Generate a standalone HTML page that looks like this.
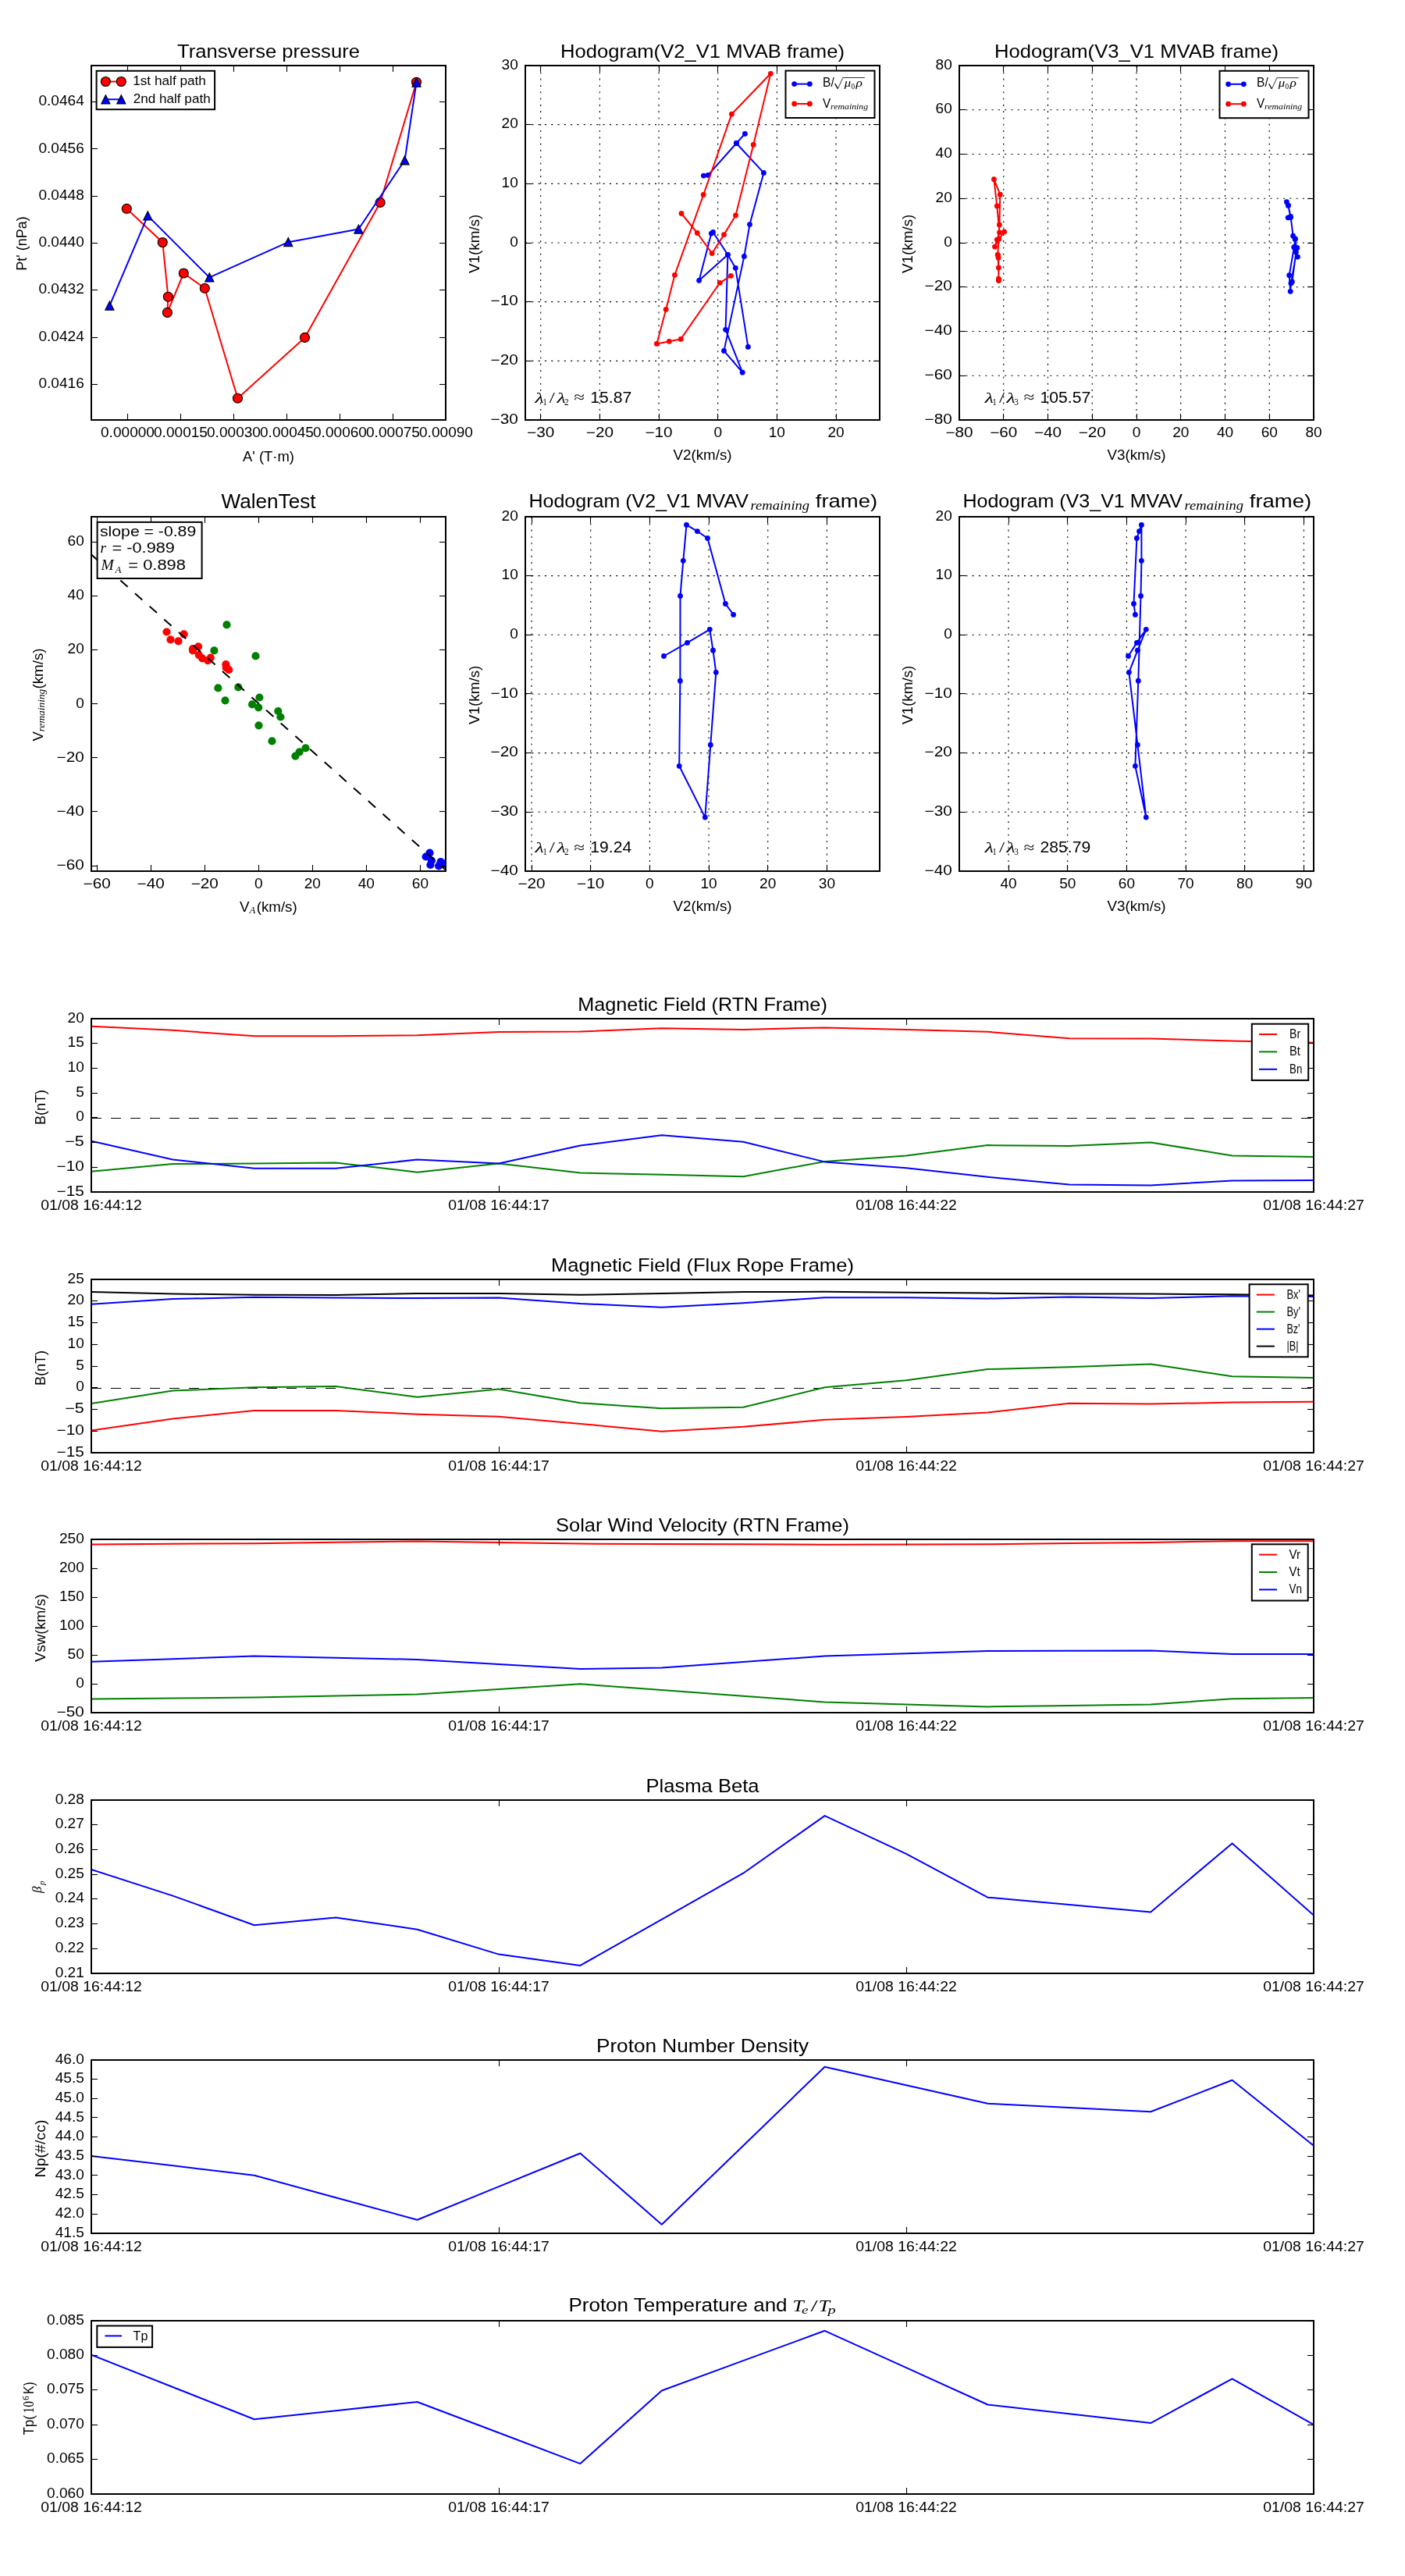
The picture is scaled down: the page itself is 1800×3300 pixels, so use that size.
<!DOCTYPE html>
<html><head><meta charset="utf-8"><style>html,body{margin:0;padding:0;background:#fff;}svg{display:block;will-change:transform;}</style></head>
<body><svg width="1800" height="3300" viewBox="0 0 1800 3300" font-family='"Liberation Sans", sans-serif'>
<rect width="1800" height="3300" fill="#fff"/>
<defs><clipPath id="cA"><rect x="117" y="84" width="454" height="454"/></clipPath><clipPath id="cB"><rect x="673" y="84" width="454" height="454"/></clipPath><clipPath id="cC"><rect x="1229" y="84" width="454" height="454"/></clipPath><clipPath id="cD"><rect x="117" y="662" width="454" height="454"/></clipPath><clipPath id="cE"><rect x="673" y="662" width="454" height="454"/></clipPath><clipPath id="cF"><rect x="1229" y="662" width="454" height="454"/></clipPath></defs>
<g clip-path="url(#cA)">
<polyline points="162.30,267.30 208.30,310.50 215.40,380.20 214.40,400.40 235.30,350.00 262.30,369.30 304.50,510.20 390.50,432.40 487.10,259.40 533.50,105.20" fill="none" stroke="#ff0000" stroke-width="2.0" stroke-linejoin="round" stroke-linecap="butt"/>
<circle cx="162.30" cy="267.30" r="6.0" fill="#ff0000" stroke="#000" stroke-width="1.1"/>
<circle cx="208.30" cy="310.50" r="6.0" fill="#ff0000" stroke="#000" stroke-width="1.1"/>
<circle cx="215.40" cy="380.20" r="6.0" fill="#ff0000" stroke="#000" stroke-width="1.1"/>
<circle cx="214.40" cy="400.40" r="6.0" fill="#ff0000" stroke="#000" stroke-width="1.1"/>
<circle cx="235.30" cy="350.00" r="6.0" fill="#ff0000" stroke="#000" stroke-width="1.1"/>
<circle cx="262.30" cy="369.30" r="6.0" fill="#ff0000" stroke="#000" stroke-width="1.1"/>
<circle cx="304.50" cy="510.20" r="6.0" fill="#ff0000" stroke="#000" stroke-width="1.1"/>
<circle cx="390.50" cy="432.40" r="6.0" fill="#ff0000" stroke="#000" stroke-width="1.1"/>
<circle cx="487.10" cy="259.40" r="6.0" fill="#ff0000" stroke="#000" stroke-width="1.1"/>
<circle cx="533.50" cy="105.20" r="6.0" fill="#ff0000" stroke="#000" stroke-width="1.1"/>
<polyline points="140.40,391.60 189.30,276.40 268.30,355.40 369.30,310.20 459.40,293.50 518.50,205.30 533.50,105.60" fill="none" stroke="#0000ff" stroke-width="2.0" stroke-linejoin="round" stroke-linecap="butt"/>
<path d="M140.40,386.00 L146.00,397.20 L134.80,397.20 Z" fill="#0000ff" stroke="#000" stroke-width="1.1" stroke-linejoin="miter"/>
<path d="M189.30,270.80 L194.90,282.00 L183.70,282.00 Z" fill="#0000ff" stroke="#000" stroke-width="1.1" stroke-linejoin="miter"/>
<path d="M268.30,349.80 L273.90,361.00 L262.70,361.00 Z" fill="#0000ff" stroke="#000" stroke-width="1.1" stroke-linejoin="miter"/>
<path d="M369.30,304.60 L374.90,315.80 L363.70,315.80 Z" fill="#0000ff" stroke="#000" stroke-width="1.1" stroke-linejoin="miter"/>
<path d="M459.40,287.90 L465.00,299.10 L453.80,299.10 Z" fill="#0000ff" stroke="#000" stroke-width="1.1" stroke-linejoin="miter"/>
<path d="M518.50,199.70 L524.10,210.90 L512.90,210.90 Z" fill="#0000ff" stroke="#000" stroke-width="1.1" stroke-linejoin="miter"/>
<path d="M533.50,100.00 L539.10,111.20 L527.90,111.20 Z" fill="#0000ff" stroke="#000" stroke-width="1.1" stroke-linejoin="miter"/>
</g>
<line x1="163.50" y1="538.00" x2="163.50" y2="530.00" stroke="#000" stroke-width="1.1"/>
<line x1="163.50" y1="84.00" x2="163.50" y2="92.00" stroke="#000" stroke-width="1.1"/>
<line x1="231.50" y1="538.00" x2="231.50" y2="530.00" stroke="#000" stroke-width="1.1"/>
<line x1="231.50" y1="84.00" x2="231.50" y2="92.00" stroke="#000" stroke-width="1.1"/>
<line x1="299.50" y1="538.00" x2="299.50" y2="530.00" stroke="#000" stroke-width="1.1"/>
<line x1="299.50" y1="84.00" x2="299.50" y2="92.00" stroke="#000" stroke-width="1.1"/>
<line x1="367.50" y1="538.00" x2="367.50" y2="530.00" stroke="#000" stroke-width="1.1"/>
<line x1="367.50" y1="84.00" x2="367.50" y2="92.00" stroke="#000" stroke-width="1.1"/>
<line x1="435.50" y1="538.00" x2="435.50" y2="530.00" stroke="#000" stroke-width="1.1"/>
<line x1="435.50" y1="84.00" x2="435.50" y2="92.00" stroke="#000" stroke-width="1.1"/>
<line x1="503.50" y1="538.00" x2="503.50" y2="530.00" stroke="#000" stroke-width="1.1"/>
<line x1="503.50" y1="84.00" x2="503.50" y2="92.00" stroke="#000" stroke-width="1.1"/>
<line x1="117.00" y1="130.50" x2="125.00" y2="130.50" stroke="#000" stroke-width="1.1"/>
<line x1="571.00" y1="130.50" x2="563.00" y2="130.50" stroke="#000" stroke-width="1.1"/>
<line x1="117.00" y1="190.50" x2="125.00" y2="190.50" stroke="#000" stroke-width="1.1"/>
<line x1="571.00" y1="190.50" x2="563.00" y2="190.50" stroke="#000" stroke-width="1.1"/>
<line x1="117.00" y1="251.50" x2="125.00" y2="251.50" stroke="#000" stroke-width="1.1"/>
<line x1="571.00" y1="251.50" x2="563.00" y2="251.50" stroke="#000" stroke-width="1.1"/>
<line x1="117.00" y1="311.50" x2="125.00" y2="311.50" stroke="#000" stroke-width="1.1"/>
<line x1="571.00" y1="311.50" x2="563.00" y2="311.50" stroke="#000" stroke-width="1.1"/>
<line x1="117.00" y1="371.50" x2="125.00" y2="371.50" stroke="#000" stroke-width="1.1"/>
<line x1="571.00" y1="371.50" x2="563.00" y2="371.50" stroke="#000" stroke-width="1.1"/>
<line x1="117.00" y1="432.50" x2="125.00" y2="432.50" stroke="#000" stroke-width="1.1"/>
<line x1="571.00" y1="432.50" x2="563.00" y2="432.50" stroke="#000" stroke-width="1.1"/>
<line x1="117.00" y1="492.50" x2="125.00" y2="492.50" stroke="#000" stroke-width="1.1"/>
<line x1="571.00" y1="492.50" x2="563.00" y2="492.50" stroke="#000" stroke-width="1.1"/>
<rect x="117" y="84" width="454" height="454" fill="none" stroke="#000" stroke-width="2"/>
<text x="107.80" y="135.20" font-size="17.50" text-anchor="end" textLength="58.33" lengthAdjust="spacingAndGlyphs">0.0464</text>
<text x="107.80" y="195.52" font-size="17.50" text-anchor="end" textLength="58.33" lengthAdjust="spacingAndGlyphs">0.0456</text>
<text x="107.80" y="255.84" font-size="17.50" text-anchor="end" textLength="58.33" lengthAdjust="spacingAndGlyphs">0.0448</text>
<text x="107.80" y="316.16" font-size="17.50" text-anchor="end" textLength="58.33" lengthAdjust="spacingAndGlyphs">0.0440</text>
<text x="107.80" y="376.48" font-size="17.50" text-anchor="end" textLength="58.33" lengthAdjust="spacingAndGlyphs">0.0432</text>
<text x="107.80" y="436.80" font-size="17.50" text-anchor="end" textLength="58.33" lengthAdjust="spacingAndGlyphs">0.0424</text>
<text x="107.80" y="497.12" font-size="17.50" text-anchor="end" textLength="58.33" lengthAdjust="spacingAndGlyphs">0.0416</text>
<text x="163.50" y="559.80" font-size="17.50" text-anchor="middle" textLength="68.94" lengthAdjust="spacingAndGlyphs">0.00000</text>
<text x="231.50" y="559.80" font-size="17.50" text-anchor="middle" textLength="68.94" lengthAdjust="spacingAndGlyphs">0.00015</text>
<text x="299.50" y="559.80" font-size="17.50" text-anchor="middle" textLength="68.94" lengthAdjust="spacingAndGlyphs">0.00030</text>
<text x="367.50" y="559.80" font-size="17.50" text-anchor="middle" textLength="68.94" lengthAdjust="spacingAndGlyphs">0.00045</text>
<text x="435.50" y="559.80" font-size="17.50" text-anchor="middle" textLength="68.94" lengthAdjust="spacingAndGlyphs">0.00060</text>
<text x="503.50" y="559.80" font-size="17.50" text-anchor="middle" textLength="68.94" lengthAdjust="spacingAndGlyphs">0.00075</text>
<text x="571.50" y="559.80" font-size="17.50" text-anchor="middle" textLength="68.94" lengthAdjust="spacingAndGlyphs">0.00090</text>
<text x="344.00" y="73.80" font-size="24.47" text-anchor="middle" textLength="233.80" lengthAdjust="spacingAndGlyphs">Transverse pressure</text>
<text x="344.00" y="590.70" font-size="17.50" text-anchor="middle" textLength="66.01" lengthAdjust="spacingAndGlyphs">A' (T·m)</text>
<text x="34.00" y="312.00" font-size="17.50" text-anchor="middle" textLength="69.50" lengthAdjust="spacingAndGlyphs" transform="rotate(-90 34.00 312.00)">Pt' (nPa)</text>
<rect x="123.6" y="90.8" width="151.5" height="49.4" fill="#fff" stroke="#000" stroke-width="2"/>
<line x1="135.40" y1="104.50" x2="155.30" y2="104.50" stroke="#ff0000" stroke-width="2"/>
<circle cx="135.4" cy="104.5" r="6.0" fill="#ff0000" stroke="#000" stroke-width="1.1"/>
<circle cx="155.3" cy="104.5" r="6.0" fill="#ff0000" stroke="#000" stroke-width="1.1"/>
<line x1="135.40" y1="127.30" x2="155.30" y2="127.30" stroke="#0000ff" stroke-width="2"/>
<path d="M135.40,121.70 L141.00,132.90 L129.80,132.90 Z" fill="#0000ff" stroke="#000" stroke-width="1.1" stroke-linejoin="miter"/>
<path d="M155.30,121.70 L160.90,132.90 L149.70,132.90 Z" fill="#0000ff" stroke="#000" stroke-width="1.1" stroke-linejoin="miter"/>
<text x="170.20" y="109.10" font-size="16.59" text-anchor="start" textLength="93.76" lengthAdjust="spacingAndGlyphs">1st half path</text>
<text x="170.70" y="132.00" font-size="16.59" text-anchor="start" textLength="99.02" lengthAdjust="spacingAndGlyphs">2nd half path</text>
<line x1="692.69" y1="84.00" x2="692.69" y2="538.00" stroke="#000" stroke-width="1.1" stroke-dasharray="2.1,6.2"/>
<line x1="768.36" y1="84.00" x2="768.36" y2="538.00" stroke="#000" stroke-width="1.1" stroke-dasharray="2.1,6.2"/>
<line x1="844.03" y1="84.00" x2="844.03" y2="538.00" stroke="#000" stroke-width="1.1" stroke-dasharray="2.1,6.2"/>
<line x1="919.70" y1="84.00" x2="919.70" y2="538.00" stroke="#000" stroke-width="1.1" stroke-dasharray="2.1,6.2"/>
<line x1="995.37" y1="84.00" x2="995.37" y2="538.00" stroke="#000" stroke-width="1.1" stroke-dasharray="2.1,6.2"/>
<line x1="1071.04" y1="84.00" x2="1071.04" y2="538.00" stroke="#000" stroke-width="1.1" stroke-dasharray="2.1,6.2"/>
<line x1="673.00" y1="462.34" x2="1127.00" y2="462.34" stroke="#000" stroke-width="1.1" stroke-dasharray="2.1,6.2"/>
<line x1="673.00" y1="386.67" x2="1127.00" y2="386.67" stroke="#000" stroke-width="1.1" stroke-dasharray="2.1,6.2"/>
<line x1="673.00" y1="311.00" x2="1127.00" y2="311.00" stroke="#000" stroke-width="1.1" stroke-dasharray="2.1,6.2"/>
<line x1="673.00" y1="235.33" x2="1127.00" y2="235.33" stroke="#000" stroke-width="1.1" stroke-dasharray="2.1,6.2"/>
<line x1="673.00" y1="159.66" x2="1127.00" y2="159.66" stroke="#000" stroke-width="1.1" stroke-dasharray="2.1,6.2"/>
<g clip-path="url(#cB)">
<polyline points="901.40,225.10 907.10,224.40 943.40,183.50 954.40,171.40 943.40,183.50 978.40,221.40 960.50,287.60 953.40,328.40 927.50,449.40 951.20,477.20 929.60,422.30 932.40,326.30 895.60,359.30 911.30,299.10 913.50,297.50 932.40,326.30 942.30,343.30 958.40,444.40" fill="none" stroke="#0000ff" stroke-width="2.0" stroke-linejoin="round" stroke-linecap="butt"/>
<circle cx="901.40" cy="225.10" r="3.4" fill="#0000ff"/>
<circle cx="907.10" cy="224.40" r="3.4" fill="#0000ff"/>
<circle cx="943.40" cy="183.50" r="3.4" fill="#0000ff"/>
<circle cx="954.40" cy="171.40" r="3.4" fill="#0000ff"/>
<circle cx="943.40" cy="183.50" r="3.4" fill="#0000ff"/>
<circle cx="978.40" cy="221.40" r="3.4" fill="#0000ff"/>
<circle cx="960.50" cy="287.60" r="3.4" fill="#0000ff"/>
<circle cx="953.40" cy="328.40" r="3.4" fill="#0000ff"/>
<circle cx="927.50" cy="449.40" r="3.4" fill="#0000ff"/>
<circle cx="951.20" cy="477.20" r="3.4" fill="#0000ff"/>
<circle cx="929.60" cy="422.30" r="3.4" fill="#0000ff"/>
<circle cx="932.40" cy="326.30" r="3.4" fill="#0000ff"/>
<circle cx="895.60" cy="359.30" r="3.4" fill="#0000ff"/>
<circle cx="911.30" cy="299.10" r="3.4" fill="#0000ff"/>
<circle cx="913.50" cy="297.50" r="3.4" fill="#0000ff"/>
<circle cx="932.40" cy="326.30" r="3.4" fill="#0000ff"/>
<circle cx="942.30" cy="343.30" r="3.4" fill="#0000ff"/>
<circle cx="958.40" cy="444.40" r="3.4" fill="#0000ff"/>
<polyline points="873.00,273.50 893.30,298.50 912.20,324.60 927.50,300.60 942.50,275.90 965.20,185.40 987.30,94.30 937.40,146.20 901.20,249.50 864.40,352.30 853.20,396.40 841.40,440.40 857.30,437.30 872.20,434.40 922.20,362.30 936.40,353.30" fill="none" stroke="#ff0000" stroke-width="2.0" stroke-linejoin="round" stroke-linecap="butt"/>
<circle cx="873.00" cy="273.50" r="3.4" fill="#ff0000"/>
<circle cx="893.30" cy="298.50" r="3.4" fill="#ff0000"/>
<circle cx="912.20" cy="324.60" r="3.4" fill="#ff0000"/>
<circle cx="927.50" cy="300.60" r="3.4" fill="#ff0000"/>
<circle cx="942.50" cy="275.90" r="3.4" fill="#ff0000"/>
<circle cx="965.20" cy="185.40" r="3.4" fill="#ff0000"/>
<circle cx="987.30" cy="94.30" r="3.4" fill="#ff0000"/>
<circle cx="937.40" cy="146.20" r="3.4" fill="#ff0000"/>
<circle cx="901.20" cy="249.50" r="3.4" fill="#ff0000"/>
<circle cx="864.40" cy="352.30" r="3.4" fill="#ff0000"/>
<circle cx="853.20" cy="396.40" r="3.4" fill="#ff0000"/>
<circle cx="841.40" cy="440.40" r="3.4" fill="#ff0000"/>
<circle cx="857.30" cy="437.30" r="3.4" fill="#ff0000"/>
<circle cx="872.20" cy="434.40" r="3.4" fill="#ff0000"/>
<circle cx="922.20" cy="362.30" r="3.4" fill="#ff0000"/>
<circle cx="936.40" cy="353.30" r="3.4" fill="#ff0000"/>
</g>
<line x1="692.50" y1="538.00" x2="692.50" y2="530.00" stroke="#000" stroke-width="1.1"/>
<line x1="692.50" y1="84.00" x2="692.50" y2="92.00" stroke="#000" stroke-width="1.1"/>
<line x1="768.50" y1="538.00" x2="768.50" y2="530.00" stroke="#000" stroke-width="1.1"/>
<line x1="768.50" y1="84.00" x2="768.50" y2="92.00" stroke="#000" stroke-width="1.1"/>
<line x1="844.50" y1="538.00" x2="844.50" y2="530.00" stroke="#000" stroke-width="1.1"/>
<line x1="844.50" y1="84.00" x2="844.50" y2="92.00" stroke="#000" stroke-width="1.1"/>
<line x1="919.50" y1="538.00" x2="919.50" y2="530.00" stroke="#000" stroke-width="1.1"/>
<line x1="919.50" y1="84.00" x2="919.50" y2="92.00" stroke="#000" stroke-width="1.1"/>
<line x1="995.50" y1="538.00" x2="995.50" y2="530.00" stroke="#000" stroke-width="1.1"/>
<line x1="995.50" y1="84.00" x2="995.50" y2="92.00" stroke="#000" stroke-width="1.1"/>
<line x1="1071.50" y1="538.00" x2="1071.50" y2="530.00" stroke="#000" stroke-width="1.1"/>
<line x1="1071.50" y1="84.00" x2="1071.50" y2="92.00" stroke="#000" stroke-width="1.1"/>
<line x1="673.00" y1="538.50" x2="681.00" y2="538.50" stroke="#000" stroke-width="1.1"/>
<line x1="1127.00" y1="538.50" x2="1119.00" y2="538.50" stroke="#000" stroke-width="1.1"/>
<line x1="673.00" y1="462.50" x2="681.00" y2="462.50" stroke="#000" stroke-width="1.1"/>
<line x1="1127.00" y1="462.50" x2="1119.00" y2="462.50" stroke="#000" stroke-width="1.1"/>
<line x1="673.00" y1="386.50" x2="681.00" y2="386.50" stroke="#000" stroke-width="1.1"/>
<line x1="1127.00" y1="386.50" x2="1119.00" y2="386.50" stroke="#000" stroke-width="1.1"/>
<line x1="673.00" y1="311.50" x2="681.00" y2="311.50" stroke="#000" stroke-width="1.1"/>
<line x1="1127.00" y1="311.50" x2="1119.00" y2="311.50" stroke="#000" stroke-width="1.1"/>
<line x1="673.00" y1="235.50" x2="681.00" y2="235.50" stroke="#000" stroke-width="1.1"/>
<line x1="1127.00" y1="235.50" x2="1119.00" y2="235.50" stroke="#000" stroke-width="1.1"/>
<line x1="673.00" y1="159.50" x2="681.00" y2="159.50" stroke="#000" stroke-width="1.1"/>
<line x1="1127.00" y1="159.50" x2="1119.00" y2="159.50" stroke="#000" stroke-width="1.1"/>
<line x1="673.00" y1="83.50" x2="681.00" y2="83.50" stroke="#000" stroke-width="1.1"/>
<line x1="1127.00" y1="83.50" x2="1119.00" y2="83.50" stroke="#000" stroke-width="1.1"/>
<rect x="673" y="84" width="454" height="454" fill="none" stroke="#000" stroke-width="2"/>
<text x="663.80" y="542.61" font-size="17.50" text-anchor="end" textLength="35.18" lengthAdjust="spacingAndGlyphs">−30</text>
<text x="663.80" y="466.94" font-size="17.50" text-anchor="end" textLength="35.18" lengthAdjust="spacingAndGlyphs">−20</text>
<text x="663.80" y="391.27" font-size="17.50" text-anchor="end" textLength="35.18" lengthAdjust="spacingAndGlyphs">−10</text>
<text x="663.80" y="315.60" font-size="17.50" text-anchor="end" textLength="10.61" lengthAdjust="spacingAndGlyphs">0</text>
<text x="663.80" y="239.93" font-size="17.50" text-anchor="end" textLength="21.21" lengthAdjust="spacingAndGlyphs">10</text>
<text x="663.80" y="164.26" font-size="17.50" text-anchor="end" textLength="21.21" lengthAdjust="spacingAndGlyphs">20</text>
<text x="663.80" y="88.59" font-size="17.50" text-anchor="end" textLength="21.21" lengthAdjust="spacingAndGlyphs">30</text>
<text x="692.69" y="559.80" font-size="17.50" text-anchor="middle" textLength="35.18" lengthAdjust="spacingAndGlyphs">−30</text>
<text x="768.36" y="559.80" font-size="17.50" text-anchor="middle" textLength="35.18" lengthAdjust="spacingAndGlyphs">−20</text>
<text x="844.03" y="559.80" font-size="17.50" text-anchor="middle" textLength="35.18" lengthAdjust="spacingAndGlyphs">−10</text>
<text x="919.70" y="559.80" font-size="17.50" text-anchor="middle" textLength="10.61" lengthAdjust="spacingAndGlyphs">0</text>
<text x="995.37" y="559.80" font-size="17.50" text-anchor="middle" textLength="21.21" lengthAdjust="spacingAndGlyphs">10</text>
<text x="1071.04" y="559.80" font-size="17.50" text-anchor="middle" textLength="21.21" lengthAdjust="spacingAndGlyphs">20</text>
<text x="900.00" y="73.80" font-size="24.47" text-anchor="middle" textLength="363.90" lengthAdjust="spacingAndGlyphs">Hodogram(V2_V1 MVAB frame)</text>
<text x="900.00" y="588.80" font-size="17.50" text-anchor="middle" textLength="75.21" lengthAdjust="spacingAndGlyphs">V2(km/s)</text>
<text x="613.60" y="312.30" font-size="17.50" text-anchor="middle" textLength="75.21" lengthAdjust="spacingAndGlyphs" transform="rotate(-90 613.60 312.30)">V1(km/s)</text>
<rect x="1006.50" y="90.60" width="114" height="60.4" fill="#fff" stroke="#000" stroke-width="2"/>
<line x1="1017.60" y1="107.60" x2="1037.40" y2="107.60" stroke="#0000ff" stroke-width="2"/>
<circle cx="1017.60" cy="107.60" r="3.4" fill="#0000ff"/><circle cx="1037.40" cy="107.60" r="3.4" fill="#0000ff"/>
<line x1="1017.60" y1="133.00" x2="1037.40" y2="133.00" stroke="#ff0000" stroke-width="2"/>
<circle cx="1017.60" cy="133.00" r="3.4" fill="#ff0000"/><circle cx="1037.40" cy="133.00" r="3.4" fill="#ff0000"/>
<text x="1054.10" y="110.80" font-size="16.4" font-family='"Liberation Sans", sans-serif' textLength="14.60" lengthAdjust="spacingAndGlyphs">B/</text>
<path d="M1069.70,107.20 L1073.40,113.60" fill="none" stroke="#000" stroke-width="1.3"/>
<path d="M1073.40,113.60 L1079.90,99.50 L1107.80,99.50" fill="none" stroke="#000" stroke-width="0.8"/>
<text x="1081.70" y="110.90" font-size="14.5" font-family='"Liberation Serif", serif' font-style="italic" textLength="8.40" lengthAdjust="spacingAndGlyphs">μ</text>
<text x="1090.40" y="113.60" font-size="10.5" font-family='"Liberation Serif", serif' textLength="4.60" lengthAdjust="spacingAndGlyphs">0</text>
<text x="1096.50" y="110.90" font-size="14.5" font-family='"Liberation Serif", serif' font-style="italic" textLength="8.40" lengthAdjust="spacingAndGlyphs">ρ</text>
<text x="1054.00" y="137.60" font-size="16.4" font-family='"Liberation Sans", sans-serif' textLength="10.20" lengthAdjust="spacingAndGlyphs">V</text>
<text x="1064.00" y="139.80" font-size="11.0" font-family='"Liberation Serif", serif' font-style="italic" textLength="48.20" lengthAdjust="spacingAndGlyphs">remaining</text>
<text x="685.50" y="515.60" font-size="18.5" font-family='"Liberation Serif", serif' font-style="italic" textLength="11.20" lengthAdjust="spacingAndGlyphs">λ</text>
<text x="695.40" y="518.60" font-size="12.5" font-family='"Liberation Serif", serif' textLength="5.20" lengthAdjust="spacingAndGlyphs">1</text>
<text x="703.80" y="515.60" font-size="18.5" font-family='"Liberation Serif", serif' textLength="7.00" lengthAdjust="spacingAndGlyphs">/</text>
<text x="713.40" y="515.60" font-size="18.5" font-family='"Liberation Serif", serif' font-style="italic" textLength="11.20" lengthAdjust="spacingAndGlyphs">λ</text>
<text x="723.10" y="518.60" font-size="12.5" font-family='"Liberation Serif", serif' textLength="5.60" lengthAdjust="spacingAndGlyphs">2</text>
<text x="735.20" y="515.10" font-size="18.5" font-family='"Liberation Serif", serif' textLength="13.80" lengthAdjust="spacingAndGlyphs">≈</text>
<text x="756.30" y="515.60" font-size="19.43" text-anchor="start" textLength="52.96" lengthAdjust="spacingAndGlyphs">15.87</text>
<line x1="1285.75" y1="84.00" x2="1285.75" y2="538.00" stroke="#000" stroke-width="1.1" stroke-dasharray="2.1,6.2"/>
<line x1="1342.50" y1="84.00" x2="1342.50" y2="538.00" stroke="#000" stroke-width="1.1" stroke-dasharray="2.1,6.2"/>
<line x1="1399.25" y1="84.00" x2="1399.25" y2="538.00" stroke="#000" stroke-width="1.1" stroke-dasharray="2.1,6.2"/>
<line x1="1456.00" y1="84.00" x2="1456.00" y2="538.00" stroke="#000" stroke-width="1.1" stroke-dasharray="2.1,6.2"/>
<line x1="1512.75" y1="84.00" x2="1512.75" y2="538.00" stroke="#000" stroke-width="1.1" stroke-dasharray="2.1,6.2"/>
<line x1="1569.50" y1="84.00" x2="1569.50" y2="538.00" stroke="#000" stroke-width="1.1" stroke-dasharray="2.1,6.2"/>
<line x1="1626.25" y1="84.00" x2="1626.25" y2="538.00" stroke="#000" stroke-width="1.1" stroke-dasharray="2.1,6.2"/>
<line x1="1229.00" y1="481.25" x2="1683.00" y2="481.25" stroke="#000" stroke-width="1.1" stroke-dasharray="2.1,6.2"/>
<line x1="1229.00" y1="424.50" x2="1683.00" y2="424.50" stroke="#000" stroke-width="1.1" stroke-dasharray="2.1,6.2"/>
<line x1="1229.00" y1="367.75" x2="1683.00" y2="367.75" stroke="#000" stroke-width="1.1" stroke-dasharray="2.1,6.2"/>
<line x1="1229.00" y1="311.00" x2="1683.00" y2="311.00" stroke="#000" stroke-width="1.1" stroke-dasharray="2.1,6.2"/>
<line x1="1229.00" y1="254.25" x2="1683.00" y2="254.25" stroke="#000" stroke-width="1.1" stroke-dasharray="2.1,6.2"/>
<line x1="1229.00" y1="197.50" x2="1683.00" y2="197.50" stroke="#000" stroke-width="1.1" stroke-dasharray="2.1,6.2"/>
<line x1="1229.00" y1="140.75" x2="1683.00" y2="140.75" stroke="#000" stroke-width="1.1" stroke-dasharray="2.1,6.2"/>
<g clip-path="url(#cC)">
<polyline points="1650.10,278.79 1653.50,278.53 1650.40,263.19 1648.40,258.65 1650.40,263.19 1653.50,277.40 1656.60,302.23 1661.90,317.52 1653.90,362.90 1653.20,373.32 1651.70,352.74 1657.90,316.74 1662.50,329.11 1659.10,306.54 1659.50,305.94 1657.90,316.74 1660.40,323.11 1655.40,361.02" fill="none" stroke="#0000ff" stroke-width="2.0" stroke-linejoin="round" stroke-linecap="butt"/>
<circle cx="1650.10" cy="278.79" r="3.4" fill="#0000ff"/>
<circle cx="1653.50" cy="278.53" r="3.4" fill="#0000ff"/>
<circle cx="1650.40" cy="263.19" r="3.4" fill="#0000ff"/>
<circle cx="1648.40" cy="258.65" r="3.4" fill="#0000ff"/>
<circle cx="1650.40" cy="263.19" r="3.4" fill="#0000ff"/>
<circle cx="1653.50" cy="277.40" r="3.4" fill="#0000ff"/>
<circle cx="1656.60" cy="302.23" r="3.4" fill="#0000ff"/>
<circle cx="1661.90" cy="317.52" r="3.4" fill="#0000ff"/>
<circle cx="1653.90" cy="362.90" r="3.4" fill="#0000ff"/>
<circle cx="1653.20" cy="373.32" r="3.4" fill="#0000ff"/>
<circle cx="1651.70" cy="352.74" r="3.4" fill="#0000ff"/>
<circle cx="1657.90" cy="316.74" r="3.4" fill="#0000ff"/>
<circle cx="1662.50" cy="329.11" r="3.4" fill="#0000ff"/>
<circle cx="1659.10" cy="306.54" r="3.4" fill="#0000ff"/>
<circle cx="1659.50" cy="305.94" r="3.4" fill="#0000ff"/>
<circle cx="1657.90" cy="316.74" r="3.4" fill="#0000ff"/>
<circle cx="1660.40" cy="323.11" r="3.4" fill="#0000ff"/>
<circle cx="1655.40" cy="361.02" r="3.4" fill="#0000ff"/>
<polyline points="1286.60,296.94 1279.80,306.31 1274.50,316.10 1277.30,307.10 1280.50,297.84 1277.30,263.90 1273.40,229.74 1281.30,249.20 1280.40,287.94 1278.20,326.49 1279.40,343.02 1279.40,359.52 1279.40,358.36 1279.40,357.27 1279.10,330.24 1278.50,326.86" fill="none" stroke="#ff0000" stroke-width="2.0" stroke-linejoin="round" stroke-linecap="butt"/>
<circle cx="1286.60" cy="296.94" r="3.4" fill="#ff0000"/>
<circle cx="1279.80" cy="306.31" r="3.4" fill="#ff0000"/>
<circle cx="1274.50" cy="316.10" r="3.4" fill="#ff0000"/>
<circle cx="1277.30" cy="307.10" r="3.4" fill="#ff0000"/>
<circle cx="1280.50" cy="297.84" r="3.4" fill="#ff0000"/>
<circle cx="1277.30" cy="263.90" r="3.4" fill="#ff0000"/>
<circle cx="1273.40" cy="229.74" r="3.4" fill="#ff0000"/>
<circle cx="1281.30" cy="249.20" r="3.4" fill="#ff0000"/>
<circle cx="1280.40" cy="287.94" r="3.4" fill="#ff0000"/>
<circle cx="1278.20" cy="326.49" r="3.4" fill="#ff0000"/>
<circle cx="1279.40" cy="343.02" r="3.4" fill="#ff0000"/>
<circle cx="1279.40" cy="359.52" r="3.4" fill="#ff0000"/>
<circle cx="1279.40" cy="358.36" r="3.4" fill="#ff0000"/>
<circle cx="1279.40" cy="357.27" r="3.4" fill="#ff0000"/>
<circle cx="1279.10" cy="330.24" r="3.4" fill="#ff0000"/>
<circle cx="1278.50" cy="326.86" r="3.4" fill="#ff0000"/>
</g>
<line x1="1229.50" y1="538.00" x2="1229.50" y2="530.00" stroke="#000" stroke-width="1.1"/>
<line x1="1229.50" y1="84.00" x2="1229.50" y2="92.00" stroke="#000" stroke-width="1.1"/>
<line x1="1285.50" y1="538.00" x2="1285.50" y2="530.00" stroke="#000" stroke-width="1.1"/>
<line x1="1285.50" y1="84.00" x2="1285.50" y2="92.00" stroke="#000" stroke-width="1.1"/>
<line x1="1342.50" y1="538.00" x2="1342.50" y2="530.00" stroke="#000" stroke-width="1.1"/>
<line x1="1342.50" y1="84.00" x2="1342.50" y2="92.00" stroke="#000" stroke-width="1.1"/>
<line x1="1399.50" y1="538.00" x2="1399.50" y2="530.00" stroke="#000" stroke-width="1.1"/>
<line x1="1399.50" y1="84.00" x2="1399.50" y2="92.00" stroke="#000" stroke-width="1.1"/>
<line x1="1456.50" y1="538.00" x2="1456.50" y2="530.00" stroke="#000" stroke-width="1.1"/>
<line x1="1456.50" y1="84.00" x2="1456.50" y2="92.00" stroke="#000" stroke-width="1.1"/>
<line x1="1512.50" y1="538.00" x2="1512.50" y2="530.00" stroke="#000" stroke-width="1.1"/>
<line x1="1512.50" y1="84.00" x2="1512.50" y2="92.00" stroke="#000" stroke-width="1.1"/>
<line x1="1569.50" y1="538.00" x2="1569.50" y2="530.00" stroke="#000" stroke-width="1.1"/>
<line x1="1569.50" y1="84.00" x2="1569.50" y2="92.00" stroke="#000" stroke-width="1.1"/>
<line x1="1626.50" y1="538.00" x2="1626.50" y2="530.00" stroke="#000" stroke-width="1.1"/>
<line x1="1626.50" y1="84.00" x2="1626.50" y2="92.00" stroke="#000" stroke-width="1.1"/>
<line x1="1683.50" y1="538.00" x2="1683.50" y2="530.00" stroke="#000" stroke-width="1.1"/>
<line x1="1683.50" y1="84.00" x2="1683.50" y2="92.00" stroke="#000" stroke-width="1.1"/>
<line x1="1229.00" y1="538.50" x2="1237.00" y2="538.50" stroke="#000" stroke-width="1.1"/>
<line x1="1683.00" y1="538.50" x2="1675.00" y2="538.50" stroke="#000" stroke-width="1.1"/>
<line x1="1229.00" y1="481.50" x2="1237.00" y2="481.50" stroke="#000" stroke-width="1.1"/>
<line x1="1683.00" y1="481.50" x2="1675.00" y2="481.50" stroke="#000" stroke-width="1.1"/>
<line x1="1229.00" y1="424.50" x2="1237.00" y2="424.50" stroke="#000" stroke-width="1.1"/>
<line x1="1683.00" y1="424.50" x2="1675.00" y2="424.50" stroke="#000" stroke-width="1.1"/>
<line x1="1229.00" y1="367.50" x2="1237.00" y2="367.50" stroke="#000" stroke-width="1.1"/>
<line x1="1683.00" y1="367.50" x2="1675.00" y2="367.50" stroke="#000" stroke-width="1.1"/>
<line x1="1229.00" y1="311.50" x2="1237.00" y2="311.50" stroke="#000" stroke-width="1.1"/>
<line x1="1683.00" y1="311.50" x2="1675.00" y2="311.50" stroke="#000" stroke-width="1.1"/>
<line x1="1229.00" y1="254.50" x2="1237.00" y2="254.50" stroke="#000" stroke-width="1.1"/>
<line x1="1683.00" y1="254.50" x2="1675.00" y2="254.50" stroke="#000" stroke-width="1.1"/>
<line x1="1229.00" y1="197.50" x2="1237.00" y2="197.50" stroke="#000" stroke-width="1.1"/>
<line x1="1683.00" y1="197.50" x2="1675.00" y2="197.50" stroke="#000" stroke-width="1.1"/>
<line x1="1229.00" y1="140.50" x2="1237.00" y2="140.50" stroke="#000" stroke-width="1.1"/>
<line x1="1683.00" y1="140.50" x2="1675.00" y2="140.50" stroke="#000" stroke-width="1.1"/>
<line x1="1229.00" y1="84.50" x2="1237.00" y2="84.50" stroke="#000" stroke-width="1.1"/>
<line x1="1683.00" y1="84.50" x2="1675.00" y2="84.50" stroke="#000" stroke-width="1.1"/>
<rect x="1229" y="84" width="454" height="454" fill="none" stroke="#000" stroke-width="2"/>
<text x="1219.80" y="542.60" font-size="17.50" text-anchor="end" textLength="35.18" lengthAdjust="spacingAndGlyphs">−80</text>
<text x="1219.80" y="485.85" font-size="17.50" text-anchor="end" textLength="35.18" lengthAdjust="spacingAndGlyphs">−60</text>
<text x="1219.80" y="429.10" font-size="17.50" text-anchor="end" textLength="35.18" lengthAdjust="spacingAndGlyphs">−40</text>
<text x="1219.80" y="372.35" font-size="17.50" text-anchor="end" textLength="35.18" lengthAdjust="spacingAndGlyphs">−20</text>
<text x="1219.80" y="315.60" font-size="17.50" text-anchor="end" textLength="10.61" lengthAdjust="spacingAndGlyphs">0</text>
<text x="1219.80" y="258.85" font-size="17.50" text-anchor="end" textLength="21.21" lengthAdjust="spacingAndGlyphs">20</text>
<text x="1219.80" y="202.10" font-size="17.50" text-anchor="end" textLength="21.21" lengthAdjust="spacingAndGlyphs">40</text>
<text x="1219.80" y="145.35" font-size="17.50" text-anchor="end" textLength="21.21" lengthAdjust="spacingAndGlyphs">60</text>
<text x="1219.80" y="88.60" font-size="17.50" text-anchor="end" textLength="21.21" lengthAdjust="spacingAndGlyphs">80</text>
<text x="1229.00" y="559.80" font-size="17.50" text-anchor="middle" textLength="35.18" lengthAdjust="spacingAndGlyphs">−80</text>
<text x="1285.75" y="559.80" font-size="17.50" text-anchor="middle" textLength="35.18" lengthAdjust="spacingAndGlyphs">−60</text>
<text x="1342.50" y="559.80" font-size="17.50" text-anchor="middle" textLength="35.18" lengthAdjust="spacingAndGlyphs">−40</text>
<text x="1399.25" y="559.80" font-size="17.50" text-anchor="middle" textLength="35.18" lengthAdjust="spacingAndGlyphs">−20</text>
<text x="1456.00" y="559.80" font-size="17.50" text-anchor="middle" textLength="10.61" lengthAdjust="spacingAndGlyphs">0</text>
<text x="1512.75" y="559.80" font-size="17.50" text-anchor="middle" textLength="21.21" lengthAdjust="spacingAndGlyphs">20</text>
<text x="1569.50" y="559.80" font-size="17.50" text-anchor="middle" textLength="21.21" lengthAdjust="spacingAndGlyphs">40</text>
<text x="1626.25" y="559.80" font-size="17.50" text-anchor="middle" textLength="21.21" lengthAdjust="spacingAndGlyphs">60</text>
<text x="1683.00" y="559.80" font-size="17.50" text-anchor="middle" textLength="21.21" lengthAdjust="spacingAndGlyphs">80</text>
<text x="1456.00" y="73.80" font-size="24.47" text-anchor="middle" textLength="363.90" lengthAdjust="spacingAndGlyphs">Hodogram(V3_V1 MVAB frame)</text>
<text x="1456.00" y="588.80" font-size="17.50" text-anchor="middle" textLength="75.21" lengthAdjust="spacingAndGlyphs">V3(km/s)</text>
<text x="1169.40" y="312.30" font-size="17.50" text-anchor="middle" textLength="75.21" lengthAdjust="spacingAndGlyphs" transform="rotate(-90 1169.40 312.30)">V1(km/s)</text>
<rect x="1562.50" y="90.80" width="114" height="60.4" fill="#fff" stroke="#000" stroke-width="2"/>
<line x1="1573.60" y1="107.80" x2="1593.40" y2="107.80" stroke="#0000ff" stroke-width="2"/>
<circle cx="1573.60" cy="107.80" r="3.4" fill="#0000ff"/><circle cx="1593.40" cy="107.80" r="3.4" fill="#0000ff"/>
<line x1="1573.60" y1="133.20" x2="1593.40" y2="133.20" stroke="#ff0000" stroke-width="2"/>
<circle cx="1573.60" cy="133.20" r="3.4" fill="#ff0000"/><circle cx="1593.40" cy="133.20" r="3.4" fill="#ff0000"/>
<text x="1610.10" y="111.00" font-size="16.4" font-family='"Liberation Sans", sans-serif' textLength="14.60" lengthAdjust="spacingAndGlyphs">B/</text>
<path d="M1625.70,107.40 L1629.40,113.80" fill="none" stroke="#000" stroke-width="1.3"/>
<path d="M1629.40,113.80 L1635.90,99.70 L1663.80,99.70" fill="none" stroke="#000" stroke-width="0.8"/>
<text x="1637.70" y="111.10" font-size="14.5" font-family='"Liberation Serif", serif' font-style="italic" textLength="8.40" lengthAdjust="spacingAndGlyphs">μ</text>
<text x="1646.40" y="113.80" font-size="10.5" font-family='"Liberation Serif", serif' textLength="4.60" lengthAdjust="spacingAndGlyphs">0</text>
<text x="1652.50" y="111.10" font-size="14.5" font-family='"Liberation Serif", serif' font-style="italic" textLength="8.40" lengthAdjust="spacingAndGlyphs">ρ</text>
<text x="1610.00" y="137.80" font-size="16.4" font-family='"Liberation Sans", sans-serif' textLength="10.20" lengthAdjust="spacingAndGlyphs">V</text>
<text x="1620.00" y="140.00" font-size="11.0" font-family='"Liberation Serif", serif' font-style="italic" textLength="48.20" lengthAdjust="spacingAndGlyphs">remaining</text>
<text x="1261.70" y="515.60" font-size="18.5" font-family='"Liberation Serif", serif' font-style="italic" textLength="11.20" lengthAdjust="spacingAndGlyphs">λ</text>
<text x="1271.60" y="518.60" font-size="12.5" font-family='"Liberation Serif", serif' textLength="5.20" lengthAdjust="spacingAndGlyphs">1</text>
<text x="1280.00" y="515.60" font-size="18.5" font-family='"Liberation Serif", serif' textLength="7.00" lengthAdjust="spacingAndGlyphs">/</text>
<text x="1289.60" y="515.60" font-size="18.5" font-family='"Liberation Serif", serif' font-style="italic" textLength="11.20" lengthAdjust="spacingAndGlyphs">λ</text>
<text x="1299.30" y="518.60" font-size="12.5" font-family='"Liberation Serif", serif' textLength="5.60" lengthAdjust="spacingAndGlyphs">3</text>
<text x="1311.40" y="515.10" font-size="18.5" font-family='"Liberation Serif", serif' textLength="13.80" lengthAdjust="spacingAndGlyphs">≈</text>
<text x="1332.50" y="515.60" font-size="19.43" text-anchor="start" textLength="64.73" lengthAdjust="spacingAndGlyphs">105.57</text>
<g clip-path="url(#cD)">
<circle cx="213.50" cy="809.50" r="5.1" fill="#ff0000"/>
<circle cx="218.50" cy="819.40" r="5.1" fill="#ff0000"/>
<circle cx="228.50" cy="821.30" r="5.1" fill="#ff0000"/>
<circle cx="235.60" cy="812.30" r="5.1" fill="#ff0000"/>
<circle cx="247.00" cy="831.20" r="5.1" fill="#ff0000"/>
<circle cx="247.00" cy="833.50" r="5.1" fill="#ff0000"/>
<circle cx="254.10" cy="828.40" r="5.1" fill="#ff0000"/>
<circle cx="254.80" cy="839.10" r="5.1" fill="#ff0000"/>
<circle cx="259.10" cy="843.30" r="5.1" fill="#ff0000"/>
<circle cx="266.20" cy="846.20" r="5.1" fill="#ff0000"/>
<circle cx="269.80" cy="842.60" r="5.1" fill="#ff0000"/>
<circle cx="289.40" cy="851.20" r="5.1" fill="#ff0000"/>
<circle cx="289.70" cy="855.40" r="5.1" fill="#ff0000"/>
<circle cx="293.20" cy="858.00" r="5.1" fill="#ff0000"/>
<circle cx="290.50" cy="800.40" r="5.1" fill="#008000"/>
<circle cx="274.40" cy="833.40" r="5.1" fill="#008000"/>
<circle cx="327.50" cy="840.40" r="5.1" fill="#008000"/>
<circle cx="279.40" cy="881.40" r="5.1" fill="#008000"/>
<circle cx="305.30" cy="880.40" r="5.1" fill="#008000"/>
<circle cx="288.50" cy="897.40" r="5.1" fill="#008000"/>
<circle cx="332.40" cy="893.50" r="5.1" fill="#008000"/>
<circle cx="323.10" cy="902.40" r="5.1" fill="#008000"/>
<circle cx="331.20" cy="906.40" r="5.1" fill="#008000"/>
<circle cx="356.30" cy="911.00" r="5.1" fill="#008000"/>
<circle cx="359.40" cy="918.50" r="5.1" fill="#008000"/>
<circle cx="331.50" cy="929.30" r="5.1" fill="#008000"/>
<circle cx="348.50" cy="949.40" r="5.1" fill="#008000"/>
<circle cx="378.40" cy="968.60" r="5.1" fill="#008000"/>
<circle cx="383.60" cy="963.30" r="5.1" fill="#008000"/>
<circle cx="391.50" cy="958.40" r="5.1" fill="#008000"/>
<circle cx="550.50" cy="1092.60" r="5.1" fill="#0000ff"/>
<circle cx="545.60" cy="1097.50" r="5.1" fill="#0000ff"/>
<circle cx="552.90" cy="1102.50" r="5.1" fill="#0000ff"/>
<circle cx="551.40" cy="1108.00" r="5.1" fill="#0000ff"/>
<circle cx="564.60" cy="1104.20" r="5.1" fill="#0000ff"/>
<circle cx="562.10" cy="1109.30" r="5.1" fill="#0000ff"/>
<circle cx="569.10" cy="1106.30" r="5.1" fill="#0000ff"/>
<line x1="116.93" y1="710.32" x2="571.56" y2="1114.94" stroke="#000" stroke-width="2.0" stroke-dasharray="12.5,12.5"/>
</g>
<line x1="124.50" y1="1116.00" x2="124.50" y2="1108.00" stroke="#000" stroke-width="1.1"/>
<line x1="124.50" y1="662.00" x2="124.50" y2="670.00" stroke="#000" stroke-width="1.1"/>
<line x1="193.50" y1="1116.00" x2="193.50" y2="1108.00" stroke="#000" stroke-width="1.1"/>
<line x1="193.50" y1="662.00" x2="193.50" y2="670.00" stroke="#000" stroke-width="1.1"/>
<line x1="262.50" y1="1116.00" x2="262.50" y2="1108.00" stroke="#000" stroke-width="1.1"/>
<line x1="262.50" y1="662.00" x2="262.50" y2="670.00" stroke="#000" stroke-width="1.1"/>
<line x1="331.50" y1="1116.00" x2="331.50" y2="1108.00" stroke="#000" stroke-width="1.1"/>
<line x1="331.50" y1="662.00" x2="331.50" y2="670.00" stroke="#000" stroke-width="1.1"/>
<line x1="400.50" y1="1116.00" x2="400.50" y2="1108.00" stroke="#000" stroke-width="1.1"/>
<line x1="400.50" y1="662.00" x2="400.50" y2="670.00" stroke="#000" stroke-width="1.1"/>
<line x1="469.50" y1="1116.00" x2="469.50" y2="1108.00" stroke="#000" stroke-width="1.1"/>
<line x1="469.50" y1="662.00" x2="469.50" y2="670.00" stroke="#000" stroke-width="1.1"/>
<line x1="538.50" y1="1116.00" x2="538.50" y2="1108.00" stroke="#000" stroke-width="1.1"/>
<line x1="538.50" y1="662.00" x2="538.50" y2="670.00" stroke="#000" stroke-width="1.1"/>
<line x1="117.00" y1="1109.50" x2="125.00" y2="1109.50" stroke="#000" stroke-width="1.1"/>
<line x1="571.00" y1="1109.50" x2="563.00" y2="1109.50" stroke="#000" stroke-width="1.1"/>
<line x1="117.00" y1="1039.50" x2="125.00" y2="1039.50" stroke="#000" stroke-width="1.1"/>
<line x1="571.00" y1="1039.50" x2="563.00" y2="1039.50" stroke="#000" stroke-width="1.1"/>
<line x1="117.00" y1="970.50" x2="125.00" y2="970.50" stroke="#000" stroke-width="1.1"/>
<line x1="571.00" y1="970.50" x2="563.00" y2="970.50" stroke="#000" stroke-width="1.1"/>
<line x1="117.00" y1="901.50" x2="125.00" y2="901.50" stroke="#000" stroke-width="1.1"/>
<line x1="571.00" y1="901.50" x2="563.00" y2="901.50" stroke="#000" stroke-width="1.1"/>
<line x1="117.00" y1="832.50" x2="125.00" y2="832.50" stroke="#000" stroke-width="1.1"/>
<line x1="571.00" y1="832.50" x2="563.00" y2="832.50" stroke="#000" stroke-width="1.1"/>
<line x1="117.00" y1="763.50" x2="125.00" y2="763.50" stroke="#000" stroke-width="1.1"/>
<line x1="571.00" y1="763.50" x2="563.00" y2="763.50" stroke="#000" stroke-width="1.1"/>
<line x1="117.00" y1="694.50" x2="125.00" y2="694.50" stroke="#000" stroke-width="1.1"/>
<line x1="571.00" y1="694.50" x2="563.00" y2="694.50" stroke="#000" stroke-width="1.1"/>
<rect x="117" y="662" width="454" height="454" fill="none" stroke="#000" stroke-width="2"/>
<text x="107.80" y="1113.62" font-size="17.50" text-anchor="end" textLength="35.18" lengthAdjust="spacingAndGlyphs">−60</text>
<text x="107.80" y="1044.58" font-size="17.50" text-anchor="end" textLength="35.18" lengthAdjust="spacingAndGlyphs">−40</text>
<text x="107.80" y="975.54" font-size="17.50" text-anchor="end" textLength="35.18" lengthAdjust="spacingAndGlyphs">−20</text>
<text x="107.80" y="906.50" font-size="17.50" text-anchor="end" textLength="10.61" lengthAdjust="spacingAndGlyphs">0</text>
<text x="107.80" y="837.46" font-size="17.50" text-anchor="end" textLength="21.21" lengthAdjust="spacingAndGlyphs">20</text>
<text x="107.80" y="768.42" font-size="17.50" text-anchor="end" textLength="21.21" lengthAdjust="spacingAndGlyphs">40</text>
<text x="107.80" y="699.38" font-size="17.50" text-anchor="end" textLength="21.21" lengthAdjust="spacingAndGlyphs">60</text>
<text x="124.18" y="1137.80" font-size="17.50" text-anchor="middle" textLength="35.18" lengthAdjust="spacingAndGlyphs">−60</text>
<text x="193.22" y="1137.80" font-size="17.50" text-anchor="middle" textLength="35.18" lengthAdjust="spacingAndGlyphs">−40</text>
<text x="262.26" y="1137.80" font-size="17.50" text-anchor="middle" textLength="35.18" lengthAdjust="spacingAndGlyphs">−20</text>
<text x="331.30" y="1137.80" font-size="17.50" text-anchor="middle" textLength="10.61" lengthAdjust="spacingAndGlyphs">0</text>
<text x="400.34" y="1137.80" font-size="17.50" text-anchor="middle" textLength="21.21" lengthAdjust="spacingAndGlyphs">20</text>
<text x="469.38" y="1137.80" font-size="17.50" text-anchor="middle" textLength="21.21" lengthAdjust="spacingAndGlyphs">40</text>
<text x="538.42" y="1137.80" font-size="17.50" text-anchor="middle" textLength="21.21" lengthAdjust="spacingAndGlyphs">60</text>
<text x="344.00" y="650.90" font-size="24.99" text-anchor="middle" textLength="121.00" lengthAdjust="spacingAndGlyphs">WalenTest</text>
<text x="307.00" y="1167.70" font-size="17.5" font-family='"Liberation Sans", sans-serif' textLength="12.60" lengthAdjust="spacingAndGlyphs">V</text>
<text x="319.40" y="1169.90" font-size="12.5" font-family='"Liberation Serif", serif' font-style="italic" textLength="7.80" lengthAdjust="spacingAndGlyphs">A</text>
<text x="328.70" y="1167.70" font-size="17.50" text-anchor="start" textLength="52.00" lengthAdjust="spacingAndGlyphs">(km/s)</text>
<g transform="rotate(-90)">
<text x="-949.60" y="54.80" font-size="17.5" font-family='"Liberation Sans", sans-serif' textLength="12.40" lengthAdjust="spacingAndGlyphs">V</text>
<text x="-937.20" y="56.60" font-size="11.5" font-family='"Liberation Serif", serif' font-style="italic" textLength="54.50" lengthAdjust="spacingAndGlyphs">remaining</text>
<text x="-882.60" y="54.80" font-size="17.50" text-anchor="start" textLength="52.20" lengthAdjust="spacingAndGlyphs">(km/s)</text>
</g>
<rect x="124.6" y="668.9" width="134.0" height="72.1" fill="#fff" stroke="#000" stroke-width="2"/>
<text x="128.00" y="686.80" font-size="19.25" text-anchor="start" textLength="123.21" lengthAdjust="spacingAndGlyphs">slope = -0.89</text>
<text x="128.5" y="708.4" font-size="19" font-family='"Liberation Serif", serif' font-style="italic">r</text>
<text x="143.60" y="708.40" font-size="19.25" text-anchor="start" textLength="80.27" lengthAdjust="spacingAndGlyphs">= -0.989</text>
<text x="129.5" y="730.3" font-size="19.5" font-family='"Liberation Serif", serif' font-style="italic">M</text>
<text x="147.5" y="733.5" font-size="13" font-family='"Liberation Serif", serif' font-style="italic">A</text>
<text x="164.30" y="730.30" font-size="19.25" text-anchor="start" textLength="73.66" lengthAdjust="spacingAndGlyphs">= 0.898</text>
<line x1="681.06" y1="662.00" x2="681.06" y2="1116.00" stroke="#000" stroke-width="1.1" stroke-dasharray="2.1,6.2"/>
<line x1="756.73" y1="662.00" x2="756.73" y2="1116.00" stroke="#000" stroke-width="1.1" stroke-dasharray="2.1,6.2"/>
<line x1="832.40" y1="662.00" x2="832.40" y2="1116.00" stroke="#000" stroke-width="1.1" stroke-dasharray="2.1,6.2"/>
<line x1="908.07" y1="662.00" x2="908.07" y2="1116.00" stroke="#000" stroke-width="1.1" stroke-dasharray="2.1,6.2"/>
<line x1="983.74" y1="662.00" x2="983.74" y2="1116.00" stroke="#000" stroke-width="1.1" stroke-dasharray="2.1,6.2"/>
<line x1="1059.41" y1="662.00" x2="1059.41" y2="1116.00" stroke="#000" stroke-width="1.1" stroke-dasharray="2.1,6.2"/>
<line x1="673.00" y1="1040.31" x2="1127.00" y2="1040.31" stroke="#000" stroke-width="1.1" stroke-dasharray="2.1,6.2"/>
<line x1="673.00" y1="964.64" x2="1127.00" y2="964.64" stroke="#000" stroke-width="1.1" stroke-dasharray="2.1,6.2"/>
<line x1="673.00" y1="888.97" x2="1127.00" y2="888.97" stroke="#000" stroke-width="1.1" stroke-dasharray="2.1,6.2"/>
<line x1="673.00" y1="813.30" x2="1127.00" y2="813.30" stroke="#000" stroke-width="1.1" stroke-dasharray="2.1,6.2"/>
<line x1="673.00" y1="737.63" x2="1127.00" y2="737.63" stroke="#000" stroke-width="1.1" stroke-dasharray="2.1,6.2"/>
<g clip-path="url(#cE)">
<polyline points="939.60,787.40 929.40,773.50 906.50,689.50 893.40,680.60 879.50,672.40 875.30,718.30 871.50,763.40 871.40,872.20 870.20,981.30 903.30,1047.10 910.30,954.20 917.30,861.30 913.50,833.20 909.30,806.30 880.50,823.40 850.50,840.50" fill="none" stroke="#0000ff" stroke-width="2.0" stroke-linejoin="round" stroke-linecap="butt"/>
<circle cx="939.60" cy="787.40" r="3.4" fill="#0000ff"/>
<circle cx="929.40" cy="773.50" r="3.4" fill="#0000ff"/>
<circle cx="906.50" cy="689.50" r="3.4" fill="#0000ff"/>
<circle cx="893.40" cy="680.60" r="3.4" fill="#0000ff"/>
<circle cx="879.50" cy="672.40" r="3.4" fill="#0000ff"/>
<circle cx="875.30" cy="718.30" r="3.4" fill="#0000ff"/>
<circle cx="871.50" cy="763.40" r="3.4" fill="#0000ff"/>
<circle cx="871.40" cy="872.20" r="3.4" fill="#0000ff"/>
<circle cx="870.20" cy="981.30" r="3.4" fill="#0000ff"/>
<circle cx="903.30" cy="1047.10" r="3.4" fill="#0000ff"/>
<circle cx="910.30" cy="954.20" r="3.4" fill="#0000ff"/>
<circle cx="917.30" cy="861.30" r="3.4" fill="#0000ff"/>
<circle cx="913.50" cy="833.20" r="3.4" fill="#0000ff"/>
<circle cx="909.30" cy="806.30" r="3.4" fill="#0000ff"/>
<circle cx="880.50" cy="823.40" r="3.4" fill="#0000ff"/>
<circle cx="850.50" cy="840.50" r="3.4" fill="#0000ff"/>
</g>
<line x1="681.50" y1="1116.00" x2="681.50" y2="1108.00" stroke="#000" stroke-width="1.1"/>
<line x1="681.50" y1="662.00" x2="681.50" y2="670.00" stroke="#000" stroke-width="1.1"/>
<line x1="756.50" y1="1116.00" x2="756.50" y2="1108.00" stroke="#000" stroke-width="1.1"/>
<line x1="756.50" y1="662.00" x2="756.50" y2="670.00" stroke="#000" stroke-width="1.1"/>
<line x1="832.50" y1="1116.00" x2="832.50" y2="1108.00" stroke="#000" stroke-width="1.1"/>
<line x1="832.50" y1="662.00" x2="832.50" y2="670.00" stroke="#000" stroke-width="1.1"/>
<line x1="908.50" y1="1116.00" x2="908.50" y2="1108.00" stroke="#000" stroke-width="1.1"/>
<line x1="908.50" y1="662.00" x2="908.50" y2="670.00" stroke="#000" stroke-width="1.1"/>
<line x1="983.50" y1="1116.00" x2="983.50" y2="1108.00" stroke="#000" stroke-width="1.1"/>
<line x1="983.50" y1="662.00" x2="983.50" y2="670.00" stroke="#000" stroke-width="1.1"/>
<line x1="1059.50" y1="1116.00" x2="1059.50" y2="1108.00" stroke="#000" stroke-width="1.1"/>
<line x1="1059.50" y1="662.00" x2="1059.50" y2="670.00" stroke="#000" stroke-width="1.1"/>
<line x1="673.00" y1="1115.50" x2="681.00" y2="1115.50" stroke="#000" stroke-width="1.1"/>
<line x1="1127.00" y1="1115.50" x2="1119.00" y2="1115.50" stroke="#000" stroke-width="1.1"/>
<line x1="673.00" y1="1040.50" x2="681.00" y2="1040.50" stroke="#000" stroke-width="1.1"/>
<line x1="1127.00" y1="1040.50" x2="1119.00" y2="1040.50" stroke="#000" stroke-width="1.1"/>
<line x1="673.00" y1="964.50" x2="681.00" y2="964.50" stroke="#000" stroke-width="1.1"/>
<line x1="1127.00" y1="964.50" x2="1119.00" y2="964.50" stroke="#000" stroke-width="1.1"/>
<line x1="673.00" y1="888.50" x2="681.00" y2="888.50" stroke="#000" stroke-width="1.1"/>
<line x1="1127.00" y1="888.50" x2="1119.00" y2="888.50" stroke="#000" stroke-width="1.1"/>
<line x1="673.00" y1="813.50" x2="681.00" y2="813.50" stroke="#000" stroke-width="1.1"/>
<line x1="1127.00" y1="813.50" x2="1119.00" y2="813.50" stroke="#000" stroke-width="1.1"/>
<line x1="673.00" y1="737.50" x2="681.00" y2="737.50" stroke="#000" stroke-width="1.1"/>
<line x1="1127.00" y1="737.50" x2="1119.00" y2="737.50" stroke="#000" stroke-width="1.1"/>
<line x1="673.00" y1="661.50" x2="681.00" y2="661.50" stroke="#000" stroke-width="1.1"/>
<line x1="1127.00" y1="661.50" x2="1119.00" y2="661.50" stroke="#000" stroke-width="1.1"/>
<rect x="673" y="662" width="454" height="454" fill="none" stroke="#000" stroke-width="2"/>
<text x="663.80" y="1120.58" font-size="17.50" text-anchor="end" textLength="35.18" lengthAdjust="spacingAndGlyphs">−40</text>
<text x="663.80" y="1044.91" font-size="17.50" text-anchor="end" textLength="35.18" lengthAdjust="spacingAndGlyphs">−30</text>
<text x="663.80" y="969.24" font-size="17.50" text-anchor="end" textLength="35.18" lengthAdjust="spacingAndGlyphs">−20</text>
<text x="663.80" y="893.57" font-size="17.50" text-anchor="end" textLength="35.18" lengthAdjust="spacingAndGlyphs">−10</text>
<text x="663.80" y="817.90" font-size="17.50" text-anchor="end" textLength="10.61" lengthAdjust="spacingAndGlyphs">0</text>
<text x="663.80" y="742.23" font-size="17.50" text-anchor="end" textLength="21.21" lengthAdjust="spacingAndGlyphs">10</text>
<text x="663.80" y="666.56" font-size="17.50" text-anchor="end" textLength="21.21" lengthAdjust="spacingAndGlyphs">20</text>
<text x="681.06" y="1137.80" font-size="17.50" text-anchor="middle" textLength="35.18" lengthAdjust="spacingAndGlyphs">−20</text>
<text x="756.73" y="1137.80" font-size="17.50" text-anchor="middle" textLength="35.18" lengthAdjust="spacingAndGlyphs">−10</text>
<text x="832.40" y="1137.80" font-size="17.50" text-anchor="middle" textLength="10.61" lengthAdjust="spacingAndGlyphs">0</text>
<text x="908.07" y="1137.80" font-size="17.50" text-anchor="middle" textLength="21.21" lengthAdjust="spacingAndGlyphs">10</text>
<text x="983.74" y="1137.80" font-size="17.50" text-anchor="middle" textLength="21.21" lengthAdjust="spacingAndGlyphs">20</text>
<text x="1059.41" y="1137.80" font-size="17.50" text-anchor="middle" textLength="21.21" lengthAdjust="spacingAndGlyphs">30</text>
<text x="677.40" y="649.80" font-size="24.50" text-anchor="start" textLength="281.60" lengthAdjust="spacingAndGlyphs">Hodogram (V2_V1 MVAV</text>
<text x="961.50" y="652.6" font-size="17" font-family='"Liberation Serif", serif' font-style="italic" textLength="75.6" lengthAdjust="spacingAndGlyphs">remaining</text>
<text x="1044.80" y="649.80" font-size="24.50" text-anchor="start" textLength="79.40" lengthAdjust="spacingAndGlyphs">frame)</text>
<text x="900.00" y="1166.80" font-size="17.50" text-anchor="middle" textLength="75.21" lengthAdjust="spacingAndGlyphs">V2(km/s)</text>
<text x="613.60" y="890.30" font-size="17.50" text-anchor="middle" textLength="75.21" lengthAdjust="spacingAndGlyphs" transform="rotate(-90 613.60 890.30)">V1(km/s)</text>
<text x="685.50" y="1092.30" font-size="18.5" font-family='"Liberation Serif", serif' font-style="italic" textLength="11.20" lengthAdjust="spacingAndGlyphs">λ</text>
<text x="695.40" y="1095.30" font-size="12.5" font-family='"Liberation Serif", serif' textLength="5.20" lengthAdjust="spacingAndGlyphs">1</text>
<text x="703.80" y="1092.30" font-size="18.5" font-family='"Liberation Serif", serif' textLength="7.00" lengthAdjust="spacingAndGlyphs">/</text>
<text x="713.40" y="1092.30" font-size="18.5" font-family='"Liberation Serif", serif' font-style="italic" textLength="11.20" lengthAdjust="spacingAndGlyphs">λ</text>
<text x="723.10" y="1095.30" font-size="12.5" font-family='"Liberation Serif", serif' textLength="5.60" lengthAdjust="spacingAndGlyphs">2</text>
<text x="735.20" y="1091.80" font-size="18.5" font-family='"Liberation Serif", serif' textLength="13.80" lengthAdjust="spacingAndGlyphs">≈</text>
<text x="756.30" y="1092.30" font-size="19.43" text-anchor="start" textLength="52.96" lengthAdjust="spacingAndGlyphs">19.24</text>
<line x1="1292.06" y1="662.00" x2="1292.06" y2="1116.00" stroke="#000" stroke-width="1.1" stroke-dasharray="2.1,6.2"/>
<line x1="1367.73" y1="662.00" x2="1367.73" y2="1116.00" stroke="#000" stroke-width="1.1" stroke-dasharray="2.1,6.2"/>
<line x1="1443.40" y1="662.00" x2="1443.40" y2="1116.00" stroke="#000" stroke-width="1.1" stroke-dasharray="2.1,6.2"/>
<line x1="1519.07" y1="662.00" x2="1519.07" y2="1116.00" stroke="#000" stroke-width="1.1" stroke-dasharray="2.1,6.2"/>
<line x1="1594.74" y1="662.00" x2="1594.74" y2="1116.00" stroke="#000" stroke-width="1.1" stroke-dasharray="2.1,6.2"/>
<line x1="1670.41" y1="662.00" x2="1670.41" y2="1116.00" stroke="#000" stroke-width="1.1" stroke-dasharray="2.1,6.2"/>
<line x1="1229.00" y1="1040.31" x2="1683.00" y2="1040.31" stroke="#000" stroke-width="1.1" stroke-dasharray="2.1,6.2"/>
<line x1="1229.00" y1="964.64" x2="1683.00" y2="964.64" stroke="#000" stroke-width="1.1" stroke-dasharray="2.1,6.2"/>
<line x1="1229.00" y1="888.97" x2="1683.00" y2="888.97" stroke="#000" stroke-width="1.1" stroke-dasharray="2.1,6.2"/>
<line x1="1229.00" y1="813.30" x2="1683.00" y2="813.30" stroke="#000" stroke-width="1.1" stroke-dasharray="2.1,6.2"/>
<line x1="1229.00" y1="737.63" x2="1683.00" y2="737.63" stroke="#000" stroke-width="1.1" stroke-dasharray="2.1,6.2"/>
<g clip-path="url(#cF)">
<polyline points="1454.40,787.40 1452.50,773.50 1456.40,689.50 1459.50,680.60 1462.40,672.40 1462.40,718.30 1461.50,763.40 1458.30,872.20 1454.40,981.30 1468.30,1047.10 1457.40,954.20 1446.40,861.30 1457.40,833.20 1468.30,806.30 1456.40,823.40 1445.50,840.50" fill="none" stroke="#0000ff" stroke-width="2.0" stroke-linejoin="round" stroke-linecap="butt"/>
<circle cx="1454.40" cy="787.40" r="3.4" fill="#0000ff"/>
<circle cx="1452.50" cy="773.50" r="3.4" fill="#0000ff"/>
<circle cx="1456.40" cy="689.50" r="3.4" fill="#0000ff"/>
<circle cx="1459.50" cy="680.60" r="3.4" fill="#0000ff"/>
<circle cx="1462.40" cy="672.40" r="3.4" fill="#0000ff"/>
<circle cx="1462.40" cy="718.30" r="3.4" fill="#0000ff"/>
<circle cx="1461.50" cy="763.40" r="3.4" fill="#0000ff"/>
<circle cx="1458.30" cy="872.20" r="3.4" fill="#0000ff"/>
<circle cx="1454.40" cy="981.30" r="3.4" fill="#0000ff"/>
<circle cx="1468.30" cy="1047.10" r="3.4" fill="#0000ff"/>
<circle cx="1457.40" cy="954.20" r="3.4" fill="#0000ff"/>
<circle cx="1446.40" cy="861.30" r="3.4" fill="#0000ff"/>
<circle cx="1457.40" cy="833.20" r="3.4" fill="#0000ff"/>
<circle cx="1468.30" cy="806.30" r="3.4" fill="#0000ff"/>
<circle cx="1456.40" cy="823.40" r="3.4" fill="#0000ff"/>
<circle cx="1445.50" cy="840.50" r="3.4" fill="#0000ff"/>
</g>
<line x1="1292.50" y1="1116.00" x2="1292.50" y2="1108.00" stroke="#000" stroke-width="1.1"/>
<line x1="1292.50" y1="662.00" x2="1292.50" y2="670.00" stroke="#000" stroke-width="1.1"/>
<line x1="1367.50" y1="1116.00" x2="1367.50" y2="1108.00" stroke="#000" stroke-width="1.1"/>
<line x1="1367.50" y1="662.00" x2="1367.50" y2="670.00" stroke="#000" stroke-width="1.1"/>
<line x1="1443.50" y1="1116.00" x2="1443.50" y2="1108.00" stroke="#000" stroke-width="1.1"/>
<line x1="1443.50" y1="662.00" x2="1443.50" y2="670.00" stroke="#000" stroke-width="1.1"/>
<line x1="1519.50" y1="1116.00" x2="1519.50" y2="1108.00" stroke="#000" stroke-width="1.1"/>
<line x1="1519.50" y1="662.00" x2="1519.50" y2="670.00" stroke="#000" stroke-width="1.1"/>
<line x1="1594.50" y1="1116.00" x2="1594.50" y2="1108.00" stroke="#000" stroke-width="1.1"/>
<line x1="1594.50" y1="662.00" x2="1594.50" y2="670.00" stroke="#000" stroke-width="1.1"/>
<line x1="1670.50" y1="1116.00" x2="1670.50" y2="1108.00" stroke="#000" stroke-width="1.1"/>
<line x1="1670.50" y1="662.00" x2="1670.50" y2="670.00" stroke="#000" stroke-width="1.1"/>
<line x1="1229.00" y1="1115.50" x2="1237.00" y2="1115.50" stroke="#000" stroke-width="1.1"/>
<line x1="1683.00" y1="1115.50" x2="1675.00" y2="1115.50" stroke="#000" stroke-width="1.1"/>
<line x1="1229.00" y1="1040.50" x2="1237.00" y2="1040.50" stroke="#000" stroke-width="1.1"/>
<line x1="1683.00" y1="1040.50" x2="1675.00" y2="1040.50" stroke="#000" stroke-width="1.1"/>
<line x1="1229.00" y1="964.50" x2="1237.00" y2="964.50" stroke="#000" stroke-width="1.1"/>
<line x1="1683.00" y1="964.50" x2="1675.00" y2="964.50" stroke="#000" stroke-width="1.1"/>
<line x1="1229.00" y1="888.50" x2="1237.00" y2="888.50" stroke="#000" stroke-width="1.1"/>
<line x1="1683.00" y1="888.50" x2="1675.00" y2="888.50" stroke="#000" stroke-width="1.1"/>
<line x1="1229.00" y1="813.50" x2="1237.00" y2="813.50" stroke="#000" stroke-width="1.1"/>
<line x1="1683.00" y1="813.50" x2="1675.00" y2="813.50" stroke="#000" stroke-width="1.1"/>
<line x1="1229.00" y1="737.50" x2="1237.00" y2="737.50" stroke="#000" stroke-width="1.1"/>
<line x1="1683.00" y1="737.50" x2="1675.00" y2="737.50" stroke="#000" stroke-width="1.1"/>
<line x1="1229.00" y1="661.50" x2="1237.00" y2="661.50" stroke="#000" stroke-width="1.1"/>
<line x1="1683.00" y1="661.50" x2="1675.00" y2="661.50" stroke="#000" stroke-width="1.1"/>
<rect x="1229" y="662" width="454" height="454" fill="none" stroke="#000" stroke-width="2"/>
<text x="1219.80" y="1120.58" font-size="17.50" text-anchor="end" textLength="35.18" lengthAdjust="spacingAndGlyphs">−40</text>
<text x="1219.80" y="1044.91" font-size="17.50" text-anchor="end" textLength="35.18" lengthAdjust="spacingAndGlyphs">−30</text>
<text x="1219.80" y="969.24" font-size="17.50" text-anchor="end" textLength="35.18" lengthAdjust="spacingAndGlyphs">−20</text>
<text x="1219.80" y="893.57" font-size="17.50" text-anchor="end" textLength="35.18" lengthAdjust="spacingAndGlyphs">−10</text>
<text x="1219.80" y="817.90" font-size="17.50" text-anchor="end" textLength="10.61" lengthAdjust="spacingAndGlyphs">0</text>
<text x="1219.80" y="742.23" font-size="17.50" text-anchor="end" textLength="21.21" lengthAdjust="spacingAndGlyphs">10</text>
<text x="1219.80" y="666.56" font-size="17.50" text-anchor="end" textLength="21.21" lengthAdjust="spacingAndGlyphs">20</text>
<text x="1292.06" y="1137.80" font-size="17.50" text-anchor="middle" textLength="21.21" lengthAdjust="spacingAndGlyphs">40</text>
<text x="1367.73" y="1137.80" font-size="17.50" text-anchor="middle" textLength="21.21" lengthAdjust="spacingAndGlyphs">50</text>
<text x="1443.40" y="1137.80" font-size="17.50" text-anchor="middle" textLength="21.21" lengthAdjust="spacingAndGlyphs">60</text>
<text x="1519.07" y="1137.80" font-size="17.50" text-anchor="middle" textLength="21.21" lengthAdjust="spacingAndGlyphs">70</text>
<text x="1594.74" y="1137.80" font-size="17.50" text-anchor="middle" textLength="21.21" lengthAdjust="spacingAndGlyphs">80</text>
<text x="1670.41" y="1137.80" font-size="17.50" text-anchor="middle" textLength="21.21" lengthAdjust="spacingAndGlyphs">90</text>
<text x="1233.40" y="649.80" font-size="24.50" text-anchor="start" textLength="281.60" lengthAdjust="spacingAndGlyphs">Hodogram (V3_V1 MVAV</text>
<text x="1517.50" y="652.6" font-size="17" font-family='"Liberation Serif", serif' font-style="italic" textLength="75.6" lengthAdjust="spacingAndGlyphs">remaining</text>
<text x="1600.80" y="649.80" font-size="24.50" text-anchor="start" textLength="79.40" lengthAdjust="spacingAndGlyphs">frame)</text>
<text x="1456.00" y="1166.80" font-size="17.50" text-anchor="middle" textLength="75.21" lengthAdjust="spacingAndGlyphs">V3(km/s)</text>
<text x="1169.40" y="890.30" font-size="17.50" text-anchor="middle" textLength="75.21" lengthAdjust="spacingAndGlyphs" transform="rotate(-90 1169.40 890.30)">V1(km/s)</text>
<text x="1261.70" y="1092.30" font-size="18.5" font-family='"Liberation Serif", serif' font-style="italic" textLength="11.20" lengthAdjust="spacingAndGlyphs">λ</text>
<text x="1271.60" y="1095.30" font-size="12.5" font-family='"Liberation Serif", serif' textLength="5.20" lengthAdjust="spacingAndGlyphs">1</text>
<text x="1280.00" y="1092.30" font-size="18.5" font-family='"Liberation Serif", serif' textLength="7.00" lengthAdjust="spacingAndGlyphs">/</text>
<text x="1289.60" y="1092.30" font-size="18.5" font-family='"Liberation Serif", serif' font-style="italic" textLength="11.20" lengthAdjust="spacingAndGlyphs">λ</text>
<text x="1299.30" y="1095.30" font-size="12.5" font-family='"Liberation Serif", serif' textLength="5.60" lengthAdjust="spacingAndGlyphs">3</text>
<text x="1311.40" y="1091.80" font-size="18.5" font-family='"Liberation Serif", serif' textLength="13.80" lengthAdjust="spacingAndGlyphs">≈</text>
<text x="1332.50" y="1092.30" font-size="19.43" text-anchor="start" textLength="64.73" lengthAdjust="spacingAndGlyphs">285.79</text>
<defs><clipPath id="t0"><rect x="117" y="1305" width="1566" height="222"/></clipPath><clipPath id="t1"><rect x="117" y="1639" width="1566" height="222"/></clipPath><clipPath id="t2"><rect x="117" y="1972" width="1566" height="222"/></clipPath><clipPath id="t3"><rect x="117" y="2306" width="1566" height="222"/></clipPath><clipPath id="t4"><rect x="117" y="2639" width="1566" height="222"/></clipPath><clipPath id="t5"><rect x="117" y="2973" width="1566" height="222"/></clipPath></defs>
<line x1="117" y1="1432.5" x2="1683" y2="1432.5" stroke="#000" stroke-width="1.1" stroke-dasharray="13,12"/>
<polyline points="117.00,1314.70 221.40,1319.80 325.80,1327.30 430.20,1327.30 534.60,1326.20 639.00,1321.90 743.40,1321.50 847.80,1317.20 952.20,1318.90 1056.60,1316.40 1161.00,1319.10 1265.40,1321.80 1369.80,1330.20 1474.20,1330.60 1578.60,1333.40 1683.00,1335.70" fill="none" stroke="#ff0000" stroke-width="2.0" stroke-linejoin="round" stroke-linecap="butt" clip-path="url(#t0)"/>
<polyline points="117.00,1500.70 221.40,1491.10 325.80,1490.50 430.20,1489.60 534.60,1501.70 639.00,1490.60 743.40,1502.50 847.80,1504.70 952.20,1507.20 1056.60,1488.00 1161.00,1480.50 1265.40,1467.10 1369.80,1468.00 1474.20,1463.40 1578.60,1480.50 1683.00,1481.90" fill="none" stroke="#008000" stroke-width="2.0" stroke-linejoin="round" stroke-linecap="butt" clip-path="url(#t0)"/>
<polyline points="117.00,1461.80 221.40,1485.40 325.80,1496.80 430.20,1496.80 534.60,1485.50 639.00,1490.60 743.40,1467.50 847.80,1454.30 952.20,1462.80 1056.60,1488.40 1161.00,1496.20 1265.40,1507.80 1369.80,1517.50 1474.20,1518.50 1578.60,1512.40 1683.00,1512.00" fill="none" stroke="#0000ff" stroke-width="2.0" stroke-linejoin="round" stroke-linecap="butt" clip-path="url(#t0)"/>
<line x1="639.50" y1="1527.00" x2="639.50" y2="1519.00" stroke="#000" stroke-width="1.1"/>
<line x1="639.50" y1="1305.00" x2="639.50" y2="1313.00" stroke="#000" stroke-width="1.1"/>
<line x1="1161.50" y1="1527.00" x2="1161.50" y2="1519.00" stroke="#000" stroke-width="1.1"/>
<line x1="1161.50" y1="1305.00" x2="1161.50" y2="1313.00" stroke="#000" stroke-width="1.1"/>
<line x1="117.00" y1="1527.50" x2="125.00" y2="1527.50" stroke="#000" stroke-width="1.1"/>
<line x1="1683.00" y1="1527.50" x2="1675.00" y2="1527.50" stroke="#000" stroke-width="1.1"/>
<line x1="117.00" y1="1495.50" x2="125.00" y2="1495.50" stroke="#000" stroke-width="1.1"/>
<line x1="1683.00" y1="1495.50" x2="1675.00" y2="1495.50" stroke="#000" stroke-width="1.1"/>
<line x1="117.00" y1="1463.50" x2="125.00" y2="1463.50" stroke="#000" stroke-width="1.1"/>
<line x1="1683.00" y1="1463.50" x2="1675.00" y2="1463.50" stroke="#000" stroke-width="1.1"/>
<line x1="117.00" y1="1431.50" x2="125.00" y2="1431.50" stroke="#000" stroke-width="1.1"/>
<line x1="1683.00" y1="1431.50" x2="1675.00" y2="1431.50" stroke="#000" stroke-width="1.1"/>
<line x1="117.00" y1="1400.50" x2="125.00" y2="1400.50" stroke="#000" stroke-width="1.1"/>
<line x1="1683.00" y1="1400.50" x2="1675.00" y2="1400.50" stroke="#000" stroke-width="1.1"/>
<line x1="117.00" y1="1368.50" x2="125.00" y2="1368.50" stroke="#000" stroke-width="1.1"/>
<line x1="1683.00" y1="1368.50" x2="1675.00" y2="1368.50" stroke="#000" stroke-width="1.1"/>
<line x1="117.00" y1="1336.50" x2="125.00" y2="1336.50" stroke="#000" stroke-width="1.1"/>
<line x1="1683.00" y1="1336.50" x2="1675.00" y2="1336.50" stroke="#000" stroke-width="1.1"/>
<line x1="117.00" y1="1304.50" x2="125.00" y2="1304.50" stroke="#000" stroke-width="1.1"/>
<line x1="1683.00" y1="1304.50" x2="1675.00" y2="1304.50" stroke="#000" stroke-width="1.1"/>
<rect x="117" y="1305" width="1566" height="222" fill="none" stroke="#000" stroke-width="2"/>
<text x="117.00" y="1550.20" font-size="17.50" text-anchor="middle" textLength="129.50" lengthAdjust="spacingAndGlyphs">01/08 16:44:12</text>
<text x="639.00" y="1550.20" font-size="17.50" text-anchor="middle" textLength="129.50" lengthAdjust="spacingAndGlyphs">01/08 16:44:17</text>
<text x="1161.00" y="1550.20" font-size="17.50" text-anchor="middle" textLength="129.50" lengthAdjust="spacingAndGlyphs">01/08 16:44:22</text>
<text x="1683.00" y="1550.20" font-size="17.50" text-anchor="middle" textLength="129.50" lengthAdjust="spacingAndGlyphs">01/08 16:44:27</text>
<text x="107.80" y="1531.60" font-size="17.50" text-anchor="end" textLength="35.18" lengthAdjust="spacingAndGlyphs">−15</text>
<text x="107.80" y="1499.88" font-size="17.50" text-anchor="end" textLength="35.18" lengthAdjust="spacingAndGlyphs">−10</text>
<text x="107.80" y="1468.17" font-size="17.50" text-anchor="end" textLength="24.57" lengthAdjust="spacingAndGlyphs">−5</text>
<text x="107.80" y="1436.45" font-size="17.50" text-anchor="end" textLength="10.61" lengthAdjust="spacingAndGlyphs">0</text>
<text x="107.80" y="1404.74" font-size="17.50" text-anchor="end" textLength="10.61" lengthAdjust="spacingAndGlyphs">5</text>
<text x="107.80" y="1373.02" font-size="17.50" text-anchor="end" textLength="21.21" lengthAdjust="spacingAndGlyphs">10</text>
<text x="107.80" y="1341.31" font-size="17.50" text-anchor="end" textLength="21.21" lengthAdjust="spacingAndGlyphs">15</text>
<text x="107.80" y="1309.59" font-size="17.50" text-anchor="end" textLength="21.21" lengthAdjust="spacingAndGlyphs">20</text>
<text x="900.00" y="1295.20" font-size="24.47" text-anchor="middle" textLength="319.63" lengthAdjust="spacingAndGlyphs">Magnetic Field (RTN Frame)</text>
<text x="57.50" y="1418.50" font-size="17.50" text-anchor="middle" textLength="45.19" lengthAdjust="spacingAndGlyphs" transform="rotate(-90 57.50 1418.50)">B(nT)</text>
<rect x="1603.80" y="1311.70" width="72.40" height="72.20" fill="#fff" stroke="#000" stroke-width="2"/>
<line x1="1613.00" y1="1325.00" x2="1636.10" y2="1325.00" stroke="#ff0000" stroke-width="2"/>
<text x="1652.10" y="1330.00" font-size="16.38" text-anchor="start" textLength="14.00" lengthAdjust="spacingAndGlyphs">Br</text>
<line x1="1613.00" y1="1347.40" x2="1636.10" y2="1347.40" stroke="#008000" stroke-width="2"/>
<text x="1652.10" y="1352.40" font-size="16.38" text-anchor="start" textLength="13.80" lengthAdjust="spacingAndGlyphs">Bt</text>
<line x1="1613.00" y1="1369.80" x2="1636.10" y2="1369.80" stroke="#0000ff" stroke-width="2"/>
<text x="1652.10" y="1374.80" font-size="16.38" text-anchor="start" textLength="16.20" lengthAdjust="spacingAndGlyphs">Bn</text>
<line x1="117" y1="1778.5" x2="1683" y2="1778.5" stroke="#000" stroke-width="1.1" stroke-dasharray="13,12"/>
<polyline points="117.00,1832.50 221.40,1817.60 325.80,1807.00 430.20,1807.00 534.60,1811.70 639.00,1814.70 743.40,1823.90 847.80,1833.70 952.20,1827.80 1056.60,1818.80 1161.00,1814.90 1265.40,1809.60 1369.80,1797.80 1474.20,1798.60 1578.60,1796.60 1683.00,1795.80" fill="none" stroke="#ff0000" stroke-width="2.0" stroke-linejoin="round" stroke-linecap="butt" clip-path="url(#t1)"/>
<polyline points="117.00,1798.00 221.40,1781.60 325.80,1777.30 430.20,1776.10 534.60,1789.80 639.00,1779.60 743.40,1797.20 847.80,1804.30 952.20,1802.70 1056.60,1777.30 1161.00,1768.20 1265.40,1754.00 1369.80,1751.20 1474.20,1747.50 1578.60,1763.30 1683.00,1765.00" fill="none" stroke="#008000" stroke-width="2.0" stroke-linejoin="round" stroke-linecap="butt" clip-path="url(#t1)"/>
<polyline points="117.00,1670.80 221.40,1664.10 325.80,1661.80 430.20,1662.60 534.60,1663.00 639.00,1662.60 743.40,1670.00 847.80,1674.70 952.20,1669.20 1056.60,1662.20 1161.00,1662.30 1265.40,1663.50 1369.80,1661.50 1474.20,1663.10 1578.60,1660.30 1683.00,1661.10" fill="none" stroke="#0000ff" stroke-width="2.0" stroke-linejoin="round" stroke-linecap="butt" clip-path="url(#t1)"/>
<polyline points="117.00,1655.10 221.40,1657.50 325.80,1658.70 430.20,1659.10 534.60,1657.10 639.00,1657.10 743.40,1658.70 847.80,1657.10 952.20,1655.10 1056.60,1654.80 1161.00,1655.80 1265.40,1656.60 1369.80,1657.50 1474.20,1657.50 1578.60,1658.30 1683.00,1659.50" fill="none" stroke="#000000" stroke-width="2.0" stroke-linejoin="round" stroke-linecap="butt" clip-path="url(#t1)"/>
<line x1="639.50" y1="1861.00" x2="639.50" y2="1853.00" stroke="#000" stroke-width="1.1"/>
<line x1="639.50" y1="1639.00" x2="639.50" y2="1647.00" stroke="#000" stroke-width="1.1"/>
<line x1="1161.50" y1="1861.00" x2="1161.50" y2="1853.00" stroke="#000" stroke-width="1.1"/>
<line x1="1161.50" y1="1639.00" x2="1161.50" y2="1647.00" stroke="#000" stroke-width="1.1"/>
<line x1="117.00" y1="1861.50" x2="125.00" y2="1861.50" stroke="#000" stroke-width="1.1"/>
<line x1="1683.00" y1="1861.50" x2="1675.00" y2="1861.50" stroke="#000" stroke-width="1.1"/>
<line x1="117.00" y1="1833.50" x2="125.00" y2="1833.50" stroke="#000" stroke-width="1.1"/>
<line x1="1683.00" y1="1833.50" x2="1675.00" y2="1833.50" stroke="#000" stroke-width="1.1"/>
<line x1="117.00" y1="1805.50" x2="125.00" y2="1805.50" stroke="#000" stroke-width="1.1"/>
<line x1="1683.00" y1="1805.50" x2="1675.00" y2="1805.50" stroke="#000" stroke-width="1.1"/>
<line x1="117.00" y1="1777.50" x2="125.00" y2="1777.50" stroke="#000" stroke-width="1.1"/>
<line x1="1683.00" y1="1777.50" x2="1675.00" y2="1777.50" stroke="#000" stroke-width="1.1"/>
<line x1="117.00" y1="1750.50" x2="125.00" y2="1750.50" stroke="#000" stroke-width="1.1"/>
<line x1="1683.00" y1="1750.50" x2="1675.00" y2="1750.50" stroke="#000" stroke-width="1.1"/>
<line x1="117.00" y1="1722.50" x2="125.00" y2="1722.50" stroke="#000" stroke-width="1.1"/>
<line x1="1683.00" y1="1722.50" x2="1675.00" y2="1722.50" stroke="#000" stroke-width="1.1"/>
<line x1="117.00" y1="1694.50" x2="125.00" y2="1694.50" stroke="#000" stroke-width="1.1"/>
<line x1="1683.00" y1="1694.50" x2="1675.00" y2="1694.50" stroke="#000" stroke-width="1.1"/>
<line x1="117.00" y1="1666.50" x2="125.00" y2="1666.50" stroke="#000" stroke-width="1.1"/>
<line x1="1683.00" y1="1666.50" x2="1675.00" y2="1666.50" stroke="#000" stroke-width="1.1"/>
<line x1="117.00" y1="1639.50" x2="125.00" y2="1639.50" stroke="#000" stroke-width="1.1"/>
<line x1="1683.00" y1="1639.50" x2="1675.00" y2="1639.50" stroke="#000" stroke-width="1.1"/>
<rect x="117" y="1639" width="1566" height="222" fill="none" stroke="#000" stroke-width="2"/>
<text x="117.00" y="1884.20" font-size="17.50" text-anchor="middle" textLength="129.50" lengthAdjust="spacingAndGlyphs">01/08 16:44:12</text>
<text x="639.00" y="1884.20" font-size="17.50" text-anchor="middle" textLength="129.50" lengthAdjust="spacingAndGlyphs">01/08 16:44:17</text>
<text x="1161.00" y="1884.20" font-size="17.50" text-anchor="middle" textLength="129.50" lengthAdjust="spacingAndGlyphs">01/08 16:44:22</text>
<text x="1683.00" y="1884.20" font-size="17.50" text-anchor="middle" textLength="129.50" lengthAdjust="spacingAndGlyphs">01/08 16:44:27</text>
<text x="107.80" y="1865.60" font-size="17.50" text-anchor="end" textLength="35.18" lengthAdjust="spacingAndGlyphs">−15</text>
<text x="107.80" y="1837.85" font-size="17.50" text-anchor="end" textLength="35.18" lengthAdjust="spacingAndGlyphs">−10</text>
<text x="107.80" y="1810.10" font-size="17.50" text-anchor="end" textLength="24.57" lengthAdjust="spacingAndGlyphs">−5</text>
<text x="107.80" y="1782.35" font-size="17.50" text-anchor="end" textLength="10.61" lengthAdjust="spacingAndGlyphs">0</text>
<text x="107.80" y="1754.60" font-size="17.50" text-anchor="end" textLength="10.61" lengthAdjust="spacingAndGlyphs">5</text>
<text x="107.80" y="1726.85" font-size="17.50" text-anchor="end" textLength="21.21" lengthAdjust="spacingAndGlyphs">10</text>
<text x="107.80" y="1699.10" font-size="17.50" text-anchor="end" textLength="21.21" lengthAdjust="spacingAndGlyphs">15</text>
<text x="107.80" y="1671.35" font-size="17.50" text-anchor="end" textLength="21.21" lengthAdjust="spacingAndGlyphs">20</text>
<text x="107.80" y="1643.60" font-size="17.50" text-anchor="end" textLength="21.21" lengthAdjust="spacingAndGlyphs">25</text>
<text x="900.00" y="1629.20" font-size="24.47" text-anchor="middle" textLength="387.83" lengthAdjust="spacingAndGlyphs">Magnetic Field (Flux Rope Frame)</text>
<text x="57.50" y="1752.50" font-size="17.50" text-anchor="middle" textLength="45.19" lengthAdjust="spacingAndGlyphs" transform="rotate(-90 57.50 1752.50)">B(nT)</text>
<rect x="1600.60" y="1645.30" width="75.10" height="93.00" fill="#fff" stroke="#000" stroke-width="2"/>
<line x1="1609.80" y1="1658.60" x2="1632.90" y2="1658.60" stroke="#ff0000" stroke-width="2"/>
<text x="1648.50" y="1663.60" font-size="16.38" text-anchor="start" textLength="17.50" lengthAdjust="spacingAndGlyphs">Bx'</text>
<line x1="1609.80" y1="1680.60" x2="1632.90" y2="1680.60" stroke="#008000" stroke-width="2"/>
<text x="1648.50" y="1685.60" font-size="16.38" text-anchor="start" textLength="17.50" lengthAdjust="spacingAndGlyphs">By'</text>
<line x1="1609.80" y1="1702.60" x2="1632.90" y2="1702.60" stroke="#0000ff" stroke-width="2"/>
<text x="1648.50" y="1707.60" font-size="16.38" text-anchor="start" textLength="17.00" lengthAdjust="spacingAndGlyphs">Bz'</text>
<line x1="1609.80" y1="1724.60" x2="1632.90" y2="1724.60" stroke="#000000" stroke-width="2"/>
<text x="1648.50" y="1729.60" font-size="16.38" text-anchor="start" textLength="15.00" lengthAdjust="spacingAndGlyphs">|B|</text>
<polyline points="117.00,1978.40 221.40,1977.80 325.80,1977.20 430.20,1975.80 534.60,1974.40 639.00,1976.00 743.40,1977.60 847.80,1978.00 952.20,1978.35 1056.60,1978.70 1161.00,1978.50 1265.40,1978.30 1369.80,1977.10 1474.20,1975.90 1578.60,1974.20 1683.00,1974.20" fill="none" stroke="#ff0000" stroke-width="2.0" stroke-linejoin="round" stroke-linecap="butt" clip-path="url(#t2)"/>
<polyline points="117.00,2176.40 221.40,2175.45 325.80,2174.50 430.20,2172.55 534.60,2170.60 639.00,2163.95 743.40,2157.30 847.80,2165.00 952.20,2172.70 1056.60,2180.40 1161.00,2183.40 1265.40,2186.40 1369.80,2185.00 1474.20,2183.60 1578.60,2176.30 1683.00,2175.00" fill="none" stroke="#008000" stroke-width="2.0" stroke-linejoin="round" stroke-linecap="butt" clip-path="url(#t2)"/>
<polyline points="117.00,2128.70 221.40,2125.15 325.80,2121.60 430.20,2123.75 534.60,2125.90 639.00,2132.00 743.40,2138.10 847.80,2136.50 952.20,2129.05 1056.60,2121.60 1161.00,2118.30 1265.40,2115.00 1369.80,2114.80 1474.20,2114.60 1578.60,2119.10 1683.00,2119.10" fill="none" stroke="#0000ff" stroke-width="2.0" stroke-linejoin="round" stroke-linecap="butt" clip-path="url(#t2)"/>
<line x1="639.50" y1="2194.00" x2="639.50" y2="2186.00" stroke="#000" stroke-width="1.1"/>
<line x1="639.50" y1="1972.00" x2="639.50" y2="1980.00" stroke="#000" stroke-width="1.1"/>
<line x1="1161.50" y1="2194.00" x2="1161.50" y2="2186.00" stroke="#000" stroke-width="1.1"/>
<line x1="1161.50" y1="1972.00" x2="1161.50" y2="1980.00" stroke="#000" stroke-width="1.1"/>
<line x1="117.00" y1="2194.50" x2="125.00" y2="2194.50" stroke="#000" stroke-width="1.1"/>
<line x1="1683.00" y1="2194.50" x2="1675.00" y2="2194.50" stroke="#000" stroke-width="1.1"/>
<line x1="117.00" y1="2157.50" x2="125.00" y2="2157.50" stroke="#000" stroke-width="1.1"/>
<line x1="1683.00" y1="2157.50" x2="1675.00" y2="2157.50" stroke="#000" stroke-width="1.1"/>
<line x1="117.00" y1="2120.50" x2="125.00" y2="2120.50" stroke="#000" stroke-width="1.1"/>
<line x1="1683.00" y1="2120.50" x2="1675.00" y2="2120.50" stroke="#000" stroke-width="1.1"/>
<line x1="117.00" y1="2083.50" x2="125.00" y2="2083.50" stroke="#000" stroke-width="1.1"/>
<line x1="1683.00" y1="2083.50" x2="1675.00" y2="2083.50" stroke="#000" stroke-width="1.1"/>
<line x1="117.00" y1="2046.50" x2="125.00" y2="2046.50" stroke="#000" stroke-width="1.1"/>
<line x1="1683.00" y1="2046.50" x2="1675.00" y2="2046.50" stroke="#000" stroke-width="1.1"/>
<line x1="117.00" y1="2009.50" x2="125.00" y2="2009.50" stroke="#000" stroke-width="1.1"/>
<line x1="1683.00" y1="2009.50" x2="1675.00" y2="2009.50" stroke="#000" stroke-width="1.1"/>
<line x1="117.00" y1="1972.50" x2="125.00" y2="1972.50" stroke="#000" stroke-width="1.1"/>
<line x1="1683.00" y1="1972.50" x2="1675.00" y2="1972.50" stroke="#000" stroke-width="1.1"/>
<rect x="117" y="1972" width="1566" height="222" fill="none" stroke="#000" stroke-width="2"/>
<text x="117.00" y="2217.20" font-size="17.50" text-anchor="middle" textLength="129.50" lengthAdjust="spacingAndGlyphs">01/08 16:44:12</text>
<text x="639.00" y="2217.20" font-size="17.50" text-anchor="middle" textLength="129.50" lengthAdjust="spacingAndGlyphs">01/08 16:44:17</text>
<text x="1161.00" y="2217.20" font-size="17.50" text-anchor="middle" textLength="129.50" lengthAdjust="spacingAndGlyphs">01/08 16:44:22</text>
<text x="1683.00" y="2217.20" font-size="17.50" text-anchor="middle" textLength="129.50" lengthAdjust="spacingAndGlyphs">01/08 16:44:27</text>
<text x="107.80" y="2198.60" font-size="17.50" text-anchor="end" textLength="35.18" lengthAdjust="spacingAndGlyphs">−50</text>
<text x="107.80" y="2161.60" font-size="17.50" text-anchor="end" textLength="10.61" lengthAdjust="spacingAndGlyphs">0</text>
<text x="107.80" y="2124.60" font-size="17.50" text-anchor="end" textLength="21.21" lengthAdjust="spacingAndGlyphs">50</text>
<text x="107.80" y="2087.60" font-size="17.50" text-anchor="end" textLength="31.82" lengthAdjust="spacingAndGlyphs">100</text>
<text x="107.80" y="2050.60" font-size="17.50" text-anchor="end" textLength="31.82" lengthAdjust="spacingAndGlyphs">150</text>
<text x="107.80" y="2013.60" font-size="17.50" text-anchor="end" textLength="31.82" lengthAdjust="spacingAndGlyphs">200</text>
<text x="107.80" y="1976.60" font-size="17.50" text-anchor="end" textLength="31.82" lengthAdjust="spacingAndGlyphs">250</text>
<text x="900.00" y="1962.20" font-size="24.47" text-anchor="middle" textLength="375.90" lengthAdjust="spacingAndGlyphs">Solar Wind Velocity (RTN Frame)</text>
<text x="57.50" y="2085.50" font-size="17.50" text-anchor="middle" textLength="86.92" lengthAdjust="spacingAndGlyphs" transform="rotate(-90 57.50 2085.50)">Vsw(km/s)</text>
<rect x="1603.80" y="1978.30" width="71.90" height="72.20" fill="#fff" stroke="#000" stroke-width="2"/>
<line x1="1613.00" y1="1991.60" x2="1636.10" y2="1991.60" stroke="#ff0000" stroke-width="2"/>
<text x="1651.50" y="1996.60" font-size="16.38" text-anchor="start" textLength="14.50" lengthAdjust="spacingAndGlyphs">Vr</text>
<line x1="1613.00" y1="2014.00" x2="1636.10" y2="2014.00" stroke="#008000" stroke-width="2"/>
<text x="1651.50" y="2019.00" font-size="16.38" text-anchor="start" textLength="14.00" lengthAdjust="spacingAndGlyphs">Vt</text>
<line x1="1613.00" y1="2036.40" x2="1636.10" y2="2036.40" stroke="#0000ff" stroke-width="2"/>
<text x="1651.50" y="2041.40" font-size="16.38" text-anchor="start" textLength="16.50" lengthAdjust="spacingAndGlyphs">Vn</text>
<polyline points="117.00,2395.00 221.40,2428.60 325.80,2466.20 430.20,2456.40 534.60,2471.70 639.00,2503.60 743.40,2517.90 847.80,2458.80 952.20,2399.70 1056.60,2326.10 1161.00,2374.80 1265.40,2430.70 1369.80,2440.05 1474.20,2449.40 1578.60,2361.40 1683.00,2453.50" fill="none" stroke="#0000ff" stroke-width="2.0" stroke-linejoin="round" stroke-linecap="butt" clip-path="url(#t3)"/>
<line x1="639.50" y1="2528.00" x2="639.50" y2="2520.00" stroke="#000" stroke-width="1.1"/>
<line x1="639.50" y1="2306.00" x2="639.50" y2="2314.00" stroke="#000" stroke-width="1.1"/>
<line x1="1161.50" y1="2528.00" x2="1161.50" y2="2520.00" stroke="#000" stroke-width="1.1"/>
<line x1="1161.50" y1="2306.00" x2="1161.50" y2="2314.00" stroke="#000" stroke-width="1.1"/>
<line x1="117.00" y1="2528.50" x2="125.00" y2="2528.50" stroke="#000" stroke-width="1.1"/>
<line x1="1683.00" y1="2528.50" x2="1675.00" y2="2528.50" stroke="#000" stroke-width="1.1"/>
<line x1="117.00" y1="2496.50" x2="125.00" y2="2496.50" stroke="#000" stroke-width="1.1"/>
<line x1="1683.00" y1="2496.50" x2="1675.00" y2="2496.50" stroke="#000" stroke-width="1.1"/>
<line x1="117.00" y1="2464.50" x2="125.00" y2="2464.50" stroke="#000" stroke-width="1.1"/>
<line x1="1683.00" y1="2464.50" x2="1675.00" y2="2464.50" stroke="#000" stroke-width="1.1"/>
<line x1="117.00" y1="2432.50" x2="125.00" y2="2432.50" stroke="#000" stroke-width="1.1"/>
<line x1="1683.00" y1="2432.50" x2="1675.00" y2="2432.50" stroke="#000" stroke-width="1.1"/>
<line x1="117.00" y1="2401.50" x2="125.00" y2="2401.50" stroke="#000" stroke-width="1.1"/>
<line x1="1683.00" y1="2401.50" x2="1675.00" y2="2401.50" stroke="#000" stroke-width="1.1"/>
<line x1="117.00" y1="2369.50" x2="125.00" y2="2369.50" stroke="#000" stroke-width="1.1"/>
<line x1="1683.00" y1="2369.50" x2="1675.00" y2="2369.50" stroke="#000" stroke-width="1.1"/>
<line x1="117.00" y1="2337.50" x2="125.00" y2="2337.50" stroke="#000" stroke-width="1.1"/>
<line x1="1683.00" y1="2337.50" x2="1675.00" y2="2337.50" stroke="#000" stroke-width="1.1"/>
<line x1="117.00" y1="2306.50" x2="125.00" y2="2306.50" stroke="#000" stroke-width="1.1"/>
<line x1="1683.00" y1="2306.50" x2="1675.00" y2="2306.50" stroke="#000" stroke-width="1.1"/>
<rect x="117" y="2306" width="1566" height="222" fill="none" stroke="#000" stroke-width="2"/>
<text x="117.00" y="2551.20" font-size="17.50" text-anchor="middle" textLength="129.50" lengthAdjust="spacingAndGlyphs">01/08 16:44:12</text>
<text x="639.00" y="2551.20" font-size="17.50" text-anchor="middle" textLength="129.50" lengthAdjust="spacingAndGlyphs">01/08 16:44:17</text>
<text x="1161.00" y="2551.20" font-size="17.50" text-anchor="middle" textLength="129.50" lengthAdjust="spacingAndGlyphs">01/08 16:44:22</text>
<text x="1683.00" y="2551.20" font-size="17.50" text-anchor="middle" textLength="129.50" lengthAdjust="spacingAndGlyphs">01/08 16:44:27</text>
<text x="107.80" y="2532.60" font-size="17.50" text-anchor="end" textLength="37.12" lengthAdjust="spacingAndGlyphs">0.21</text>
<text x="107.80" y="2500.89" font-size="17.50" text-anchor="end" textLength="37.12" lengthAdjust="spacingAndGlyphs">0.22</text>
<text x="107.80" y="2469.17" font-size="17.50" text-anchor="end" textLength="37.12" lengthAdjust="spacingAndGlyphs">0.23</text>
<text x="107.80" y="2437.46" font-size="17.50" text-anchor="end" textLength="37.12" lengthAdjust="spacingAndGlyphs">0.24</text>
<text x="107.80" y="2405.74" font-size="17.50" text-anchor="end" textLength="37.12" lengthAdjust="spacingAndGlyphs">0.25</text>
<text x="107.80" y="2374.03" font-size="17.50" text-anchor="end" textLength="37.12" lengthAdjust="spacingAndGlyphs">0.26</text>
<text x="107.80" y="2342.32" font-size="17.50" text-anchor="end" textLength="37.12" lengthAdjust="spacingAndGlyphs">0.27</text>
<text x="107.80" y="2310.60" font-size="17.50" text-anchor="end" textLength="37.12" lengthAdjust="spacingAndGlyphs">0.28</text>
<text x="900.00" y="2296.20" font-size="24.47" text-anchor="middle" textLength="145.06" lengthAdjust="spacingAndGlyphs">Plasma Beta</text>
<g transform="rotate(-90 53 2417)"><text x="45" y="2417" font-size="17" font-family='"Liberation Serif", serif' font-style="italic">β</text><text x="55" y="2421" font-size="11" font-family='"Liberation Serif", serif' font-style="italic">p</text></g>
<polyline points="117.00,2762.00 221.40,2774.35 325.80,2786.70 430.20,2815.25 534.60,2843.80 639.00,2801.15 743.40,2758.50 847.80,2849.70 952.20,2748.70 1056.60,2647.70 1161.00,2671.25 1265.40,2694.80 1369.80,2700.05 1474.20,2705.30 1578.60,2664.80 1683.00,2748.70" fill="none" stroke="#0000ff" stroke-width="2.0" stroke-linejoin="round" stroke-linecap="butt" clip-path="url(#t4)"/>
<line x1="639.50" y1="2861.00" x2="639.50" y2="2853.00" stroke="#000" stroke-width="1.1"/>
<line x1="639.50" y1="2639.00" x2="639.50" y2="2647.00" stroke="#000" stroke-width="1.1"/>
<line x1="1161.50" y1="2861.00" x2="1161.50" y2="2853.00" stroke="#000" stroke-width="1.1"/>
<line x1="1161.50" y1="2639.00" x2="1161.50" y2="2647.00" stroke="#000" stroke-width="1.1"/>
<line x1="117.00" y1="2861.50" x2="125.00" y2="2861.50" stroke="#000" stroke-width="1.1"/>
<line x1="1683.00" y1="2861.50" x2="1675.00" y2="2861.50" stroke="#000" stroke-width="1.1"/>
<line x1="117.00" y1="2836.50" x2="125.00" y2="2836.50" stroke="#000" stroke-width="1.1"/>
<line x1="1683.00" y1="2836.50" x2="1675.00" y2="2836.50" stroke="#000" stroke-width="1.1"/>
<line x1="117.00" y1="2811.50" x2="125.00" y2="2811.50" stroke="#000" stroke-width="1.1"/>
<line x1="1683.00" y1="2811.50" x2="1675.00" y2="2811.50" stroke="#000" stroke-width="1.1"/>
<line x1="117.00" y1="2786.50" x2="125.00" y2="2786.50" stroke="#000" stroke-width="1.1"/>
<line x1="1683.00" y1="2786.50" x2="1675.00" y2="2786.50" stroke="#000" stroke-width="1.1"/>
<line x1="117.00" y1="2762.50" x2="125.00" y2="2762.50" stroke="#000" stroke-width="1.1"/>
<line x1="1683.00" y1="2762.50" x2="1675.00" y2="2762.50" stroke="#000" stroke-width="1.1"/>
<line x1="117.00" y1="2737.50" x2="125.00" y2="2737.50" stroke="#000" stroke-width="1.1"/>
<line x1="1683.00" y1="2737.50" x2="1675.00" y2="2737.50" stroke="#000" stroke-width="1.1"/>
<line x1="117.00" y1="2712.50" x2="125.00" y2="2712.50" stroke="#000" stroke-width="1.1"/>
<line x1="1683.00" y1="2712.50" x2="1675.00" y2="2712.50" stroke="#000" stroke-width="1.1"/>
<line x1="117.00" y1="2688.50" x2="125.00" y2="2688.50" stroke="#000" stroke-width="1.1"/>
<line x1="1683.00" y1="2688.50" x2="1675.00" y2="2688.50" stroke="#000" stroke-width="1.1"/>
<line x1="117.00" y1="2663.50" x2="125.00" y2="2663.50" stroke="#000" stroke-width="1.1"/>
<line x1="1683.00" y1="2663.50" x2="1675.00" y2="2663.50" stroke="#000" stroke-width="1.1"/>
<line x1="117.00" y1="2638.50" x2="125.00" y2="2638.50" stroke="#000" stroke-width="1.1"/>
<line x1="1683.00" y1="2638.50" x2="1675.00" y2="2638.50" stroke="#000" stroke-width="1.1"/>
<rect x="117" y="2639" width="1566" height="222" fill="none" stroke="#000" stroke-width="2"/>
<text x="117.00" y="2884.20" font-size="17.50" text-anchor="middle" textLength="129.50" lengthAdjust="spacingAndGlyphs">01/08 16:44:12</text>
<text x="639.00" y="2884.20" font-size="17.50" text-anchor="middle" textLength="129.50" lengthAdjust="spacingAndGlyphs">01/08 16:44:17</text>
<text x="1161.00" y="2884.20" font-size="17.50" text-anchor="middle" textLength="129.50" lengthAdjust="spacingAndGlyphs">01/08 16:44:22</text>
<text x="1683.00" y="2884.20" font-size="17.50" text-anchor="middle" textLength="129.50" lengthAdjust="spacingAndGlyphs">01/08 16:44:27</text>
<text x="107.80" y="2865.60" font-size="17.50" text-anchor="end" textLength="37.12" lengthAdjust="spacingAndGlyphs">41.5</text>
<text x="107.80" y="2840.93" font-size="17.50" text-anchor="end" textLength="37.12" lengthAdjust="spacingAndGlyphs">42.0</text>
<text x="107.80" y="2816.27" font-size="17.50" text-anchor="end" textLength="37.12" lengthAdjust="spacingAndGlyphs">42.5</text>
<text x="107.80" y="2791.60" font-size="17.50" text-anchor="end" textLength="37.12" lengthAdjust="spacingAndGlyphs">43.0</text>
<text x="107.80" y="2766.93" font-size="17.50" text-anchor="end" textLength="37.12" lengthAdjust="spacingAndGlyphs">43.5</text>
<text x="107.80" y="2742.26" font-size="17.50" text-anchor="end" textLength="37.12" lengthAdjust="spacingAndGlyphs">44.0</text>
<text x="107.80" y="2717.60" font-size="17.50" text-anchor="end" textLength="37.12" lengthAdjust="spacingAndGlyphs">44.5</text>
<text x="107.80" y="2692.93" font-size="17.50" text-anchor="end" textLength="37.12" lengthAdjust="spacingAndGlyphs">45.0</text>
<text x="107.80" y="2668.26" font-size="17.50" text-anchor="end" textLength="37.12" lengthAdjust="spacingAndGlyphs">45.5</text>
<text x="107.80" y="2643.60" font-size="17.50" text-anchor="end" textLength="37.12" lengthAdjust="spacingAndGlyphs">46.0</text>
<text x="900.00" y="2629.20" font-size="24.47" text-anchor="middle" textLength="272.12" lengthAdjust="spacingAndGlyphs">Proton Number Density</text>
<text x="57.50" y="2752.50" font-size="17.50" text-anchor="middle" textLength="73.97" lengthAdjust="spacingAndGlyphs" transform="rotate(-90 57.50 2752.50)">Np(#/cc)</text>
<polyline points="117.00,3016.70 221.40,3058.00 325.80,3099.30 430.20,3088.15 534.60,3077.00 639.00,3116.55 743.40,3156.10 847.80,3062.50 952.20,3024.15 1056.60,2985.80 1161.00,3033.15 1265.40,3080.50 1369.80,3092.30 1474.20,3104.10 1578.60,3047.30 1683.00,3106.10" fill="none" stroke="#0000ff" stroke-width="2.0" stroke-linejoin="round" stroke-linecap="butt" clip-path="url(#t5)"/>
<line x1="639.50" y1="3195.00" x2="639.50" y2="3187.00" stroke="#000" stroke-width="1.1"/>
<line x1="639.50" y1="2973.00" x2="639.50" y2="2981.00" stroke="#000" stroke-width="1.1"/>
<line x1="1161.50" y1="3195.00" x2="1161.50" y2="3187.00" stroke="#000" stroke-width="1.1"/>
<line x1="1161.50" y1="2973.00" x2="1161.50" y2="2981.00" stroke="#000" stroke-width="1.1"/>
<line x1="117.00" y1="3195.50" x2="125.00" y2="3195.50" stroke="#000" stroke-width="1.1"/>
<line x1="1683.00" y1="3195.50" x2="1675.00" y2="3195.50" stroke="#000" stroke-width="1.1"/>
<line x1="117.00" y1="3150.50" x2="125.00" y2="3150.50" stroke="#000" stroke-width="1.1"/>
<line x1="1683.00" y1="3150.50" x2="1675.00" y2="3150.50" stroke="#000" stroke-width="1.1"/>
<line x1="117.00" y1="3106.50" x2="125.00" y2="3106.50" stroke="#000" stroke-width="1.1"/>
<line x1="1683.00" y1="3106.50" x2="1675.00" y2="3106.50" stroke="#000" stroke-width="1.1"/>
<line x1="117.00" y1="3061.50" x2="125.00" y2="3061.50" stroke="#000" stroke-width="1.1"/>
<line x1="1683.00" y1="3061.50" x2="1675.00" y2="3061.50" stroke="#000" stroke-width="1.1"/>
<line x1="117.00" y1="3017.50" x2="125.00" y2="3017.50" stroke="#000" stroke-width="1.1"/>
<line x1="1683.00" y1="3017.50" x2="1675.00" y2="3017.50" stroke="#000" stroke-width="1.1"/>
<line x1="117.00" y1="2973.50" x2="125.00" y2="2973.50" stroke="#000" stroke-width="1.1"/>
<line x1="1683.00" y1="2973.50" x2="1675.00" y2="2973.50" stroke="#000" stroke-width="1.1"/>
<rect x="117" y="2973" width="1566" height="222" fill="none" stroke="#000" stroke-width="2"/>
<text x="117.00" y="3218.20" font-size="17.50" text-anchor="middle" textLength="129.50" lengthAdjust="spacingAndGlyphs">01/08 16:44:12</text>
<text x="639.00" y="3218.20" font-size="17.50" text-anchor="middle" textLength="129.50" lengthAdjust="spacingAndGlyphs">01/08 16:44:17</text>
<text x="1161.00" y="3218.20" font-size="17.50" text-anchor="middle" textLength="129.50" lengthAdjust="spacingAndGlyphs">01/08 16:44:22</text>
<text x="1683.00" y="3218.20" font-size="17.50" text-anchor="middle" textLength="129.50" lengthAdjust="spacingAndGlyphs">01/08 16:44:27</text>
<text x="107.80" y="3199.60" font-size="17.50" text-anchor="end" textLength="47.72" lengthAdjust="spacingAndGlyphs">0.060</text>
<text x="107.80" y="3155.20" font-size="17.50" text-anchor="end" textLength="47.72" lengthAdjust="spacingAndGlyphs">0.065</text>
<text x="107.80" y="3110.80" font-size="17.50" text-anchor="end" textLength="47.72" lengthAdjust="spacingAndGlyphs">0.070</text>
<text x="107.80" y="3066.40" font-size="17.50" text-anchor="end" textLength="47.72" lengthAdjust="spacingAndGlyphs">0.075</text>
<text x="107.80" y="3022.00" font-size="17.50" text-anchor="end" textLength="47.72" lengthAdjust="spacingAndGlyphs">0.080</text>
<text x="107.80" y="2977.60" font-size="17.50" text-anchor="end" textLength="47.72" lengthAdjust="spacingAndGlyphs">0.085</text>
<text x="728.40" y="2960.50" font-size="24.50" text-anchor="start" textLength="280.20" lengthAdjust="spacingAndGlyphs">Proton Temperature and</text>
<text x="1015.20" y="2960.50" font-size="21.5" font-family='"Liberation Serif", serif' font-style="italic" textLength="14.50" lengthAdjust="spacingAndGlyphs">T</text>
<text x="1026.90" y="2964.30" font-size="15" font-family='"Liberation Serif", serif' font-style="italic" textLength="8.60" lengthAdjust="spacingAndGlyphs">e</text>
<text x="1038.60" y="2960.50" font-size="21.5" font-family='"Liberation Serif", serif' textLength="9.20" lengthAdjust="spacingAndGlyphs">/</text>
<text x="1048.50" y="2960.50" font-size="21.5" font-family='"Liberation Serif", serif' font-style="italic" textLength="14.50" lengthAdjust="spacingAndGlyphs">T</text>
<text x="1060.40" y="2964.30" font-size="15" font-family='"Liberation Serif", serif' font-style="italic" textLength="10.20" lengthAdjust="spacingAndGlyphs">p</text>
<g transform="rotate(-90)">
<text x="-3119.60" y="42.90" font-size="17.50" text-anchor="start" textLength="25.60" lengthAdjust="spacingAndGlyphs">Tp(</text>
<text x="-3091.60" y="42.90" font-size="19.0" font-family='"Liberation Serif", serif' textLength="15.60" lengthAdjust="spacingAndGlyphs">10</text>
<text x="-3074.80" y="36.90" font-size="11.5" font-family='"Liberation Serif", serif' textLength="5.40" lengthAdjust="spacingAndGlyphs">6</text>
<text x="-3067.00" y="42.90" font-size="17.50" text-anchor="start" textLength="15.60" lengthAdjust="spacingAndGlyphs">K)</text>
</g>
<rect x="124.3" y="2979.5" width="70.8" height="27.4" fill="#fff" stroke="#000" stroke-width="2"/>
<line x1="134.40" y1="2992.40" x2="156.00" y2="2992.40" stroke="#0000ff" stroke-width="2"/>
<text x="170.60" y="2997.60" font-size="16.38" text-anchor="start" textLength="18.80" lengthAdjust="spacingAndGlyphs">Tp</text>
</svg></body></html>
